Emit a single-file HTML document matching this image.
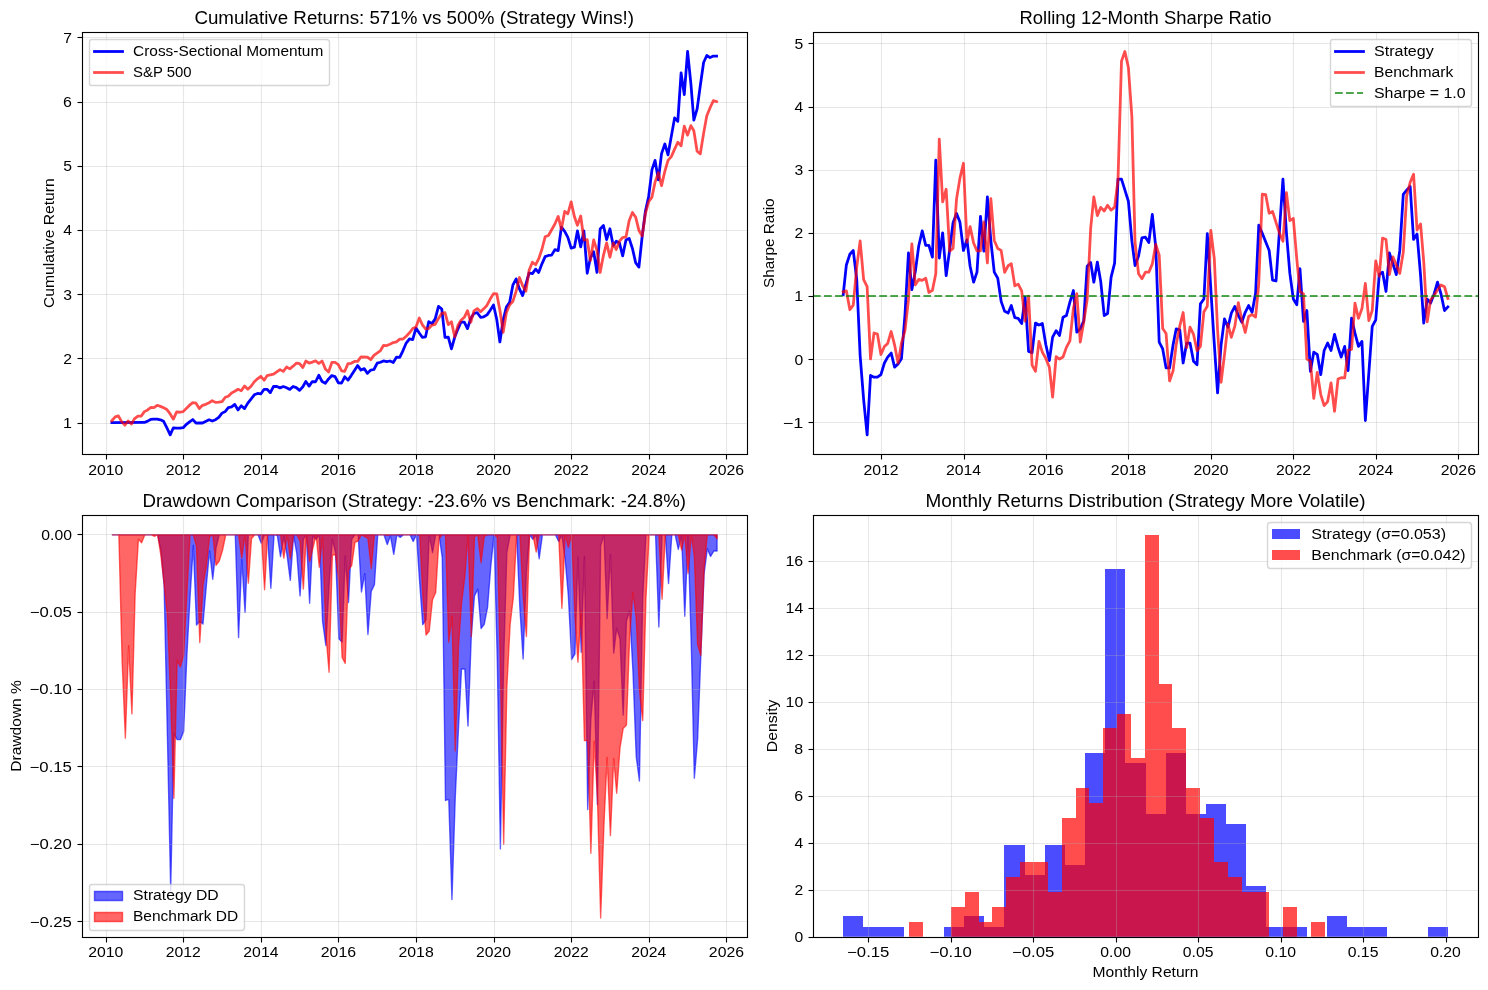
<!DOCTYPE html>
<html lang="en"><head><meta charset="utf-8"><title>Strategy vs Benchmark</title>
<style>html,body{margin:0;padding:0;background:#fff}body{width:1488px;height:990px;overflow:hidden;font-family:"Liberation Sans",sans-serif}svg{display:block;will-change:transform;transform:translateZ(0)}</style>
</head><body>
<svg width="1488" height="990" viewBox="3.6 3.6 1071.36 712.8"> <defs><style>*{stroke-linejoin:round;stroke-linecap:butt} text{font-family:"Liberation Sans",sans-serif;fill:#000}</style></defs> <g id="figure_1"> <g id="patch_1"> <path d="M 0.000 720.000 L 1080.000 720.000 L 1080.000 0.000 L 0.000 0.000 z" style="fill: #ffffff"/> </g> <g id="axes_1"> <g id="patch_2"> <path d="M 62.640 330.480 L 541.440 330.480 L 541.440 26.640 L 62.640 26.640 z" style="fill: #ffffff"/> </g> <g id="matplotlib.axis_1"> <g id="xtick_1"> <g id="line2d_1"> <path d="M 80.280 330.840 L 80.280 27.000" clip-path="url(#pc12e215c33)" style="fill: none; stroke: #b0b0b0; stroke-opacity: 0.3; stroke-width: 0.8; stroke-linecap: square"/> </g> <g id="line2d_2"> <g> <path d="M 80.280 330.840 L 80.280 334.440" style="fill: none; stroke: #000000; stroke-width: 0.8"/> </g> </g> <g id="text_1"> <text x="79.723" y="345.400" font-size="10.0800" text-anchor="middle" textLength="25.29" lengthAdjust="spacingAndGlyphs">2010</text> </g> </g> <g id="xtick_2"> <g id="line2d_3"> <path d="M 135.720 330.840 L 135.720 27.000" clip-path="url(#pc12e215c33)" style="fill: none; stroke: #b0b0b0; stroke-opacity: 0.3; stroke-width: 0.8; stroke-linecap: square"/> </g> <g id="line2d_4"> <g> <path d="M 135.720 330.840 L 135.720 334.440" style="fill: none; stroke: #000000; stroke-width: 0.8"/> </g> </g> <g id="text_2"> <text x="135.549" y="345.400" font-size="10.0800" text-anchor="middle" textLength="25.29" lengthAdjust="spacingAndGlyphs">2012</text> </g> </g> <g id="xtick_3"> <g id="line2d_5"> <path d="M 191.880 330.840 L 191.880 27.000" clip-path="url(#pc12e215c33)" style="fill: none; stroke: #b0b0b0; stroke-opacity: 0.3; stroke-width: 0.8; stroke-linecap: square"/> </g> <g id="line2d_6"> <g> <path d="M 191.880 330.840 L 191.880 334.440" style="fill: none; stroke: #000000; stroke-width: 0.8"/> </g> </g> <g id="text_3"> <text x="191.452" y="345.400" font-size="10.0800" text-anchor="middle" textLength="25.29" lengthAdjust="spacingAndGlyphs">2014</text> </g> </g> <g id="xtick_4"> <g id="line2d_7"> <path d="M 247.320 330.840 L 247.320 27.000" clip-path="url(#pc12e215c33)" style="fill: none; stroke: #b0b0b0; stroke-opacity: 0.3; stroke-width: 0.8; stroke-linecap: square"/> </g> <g id="line2d_8"> <g> <path d="M 247.320 330.840 L 247.320 334.440" style="fill: none; stroke: #000000; stroke-width: 0.8"/> </g> </g> <g id="text_4"> <text x="247.278" y="345.400" font-size="10.0800" text-anchor="middle" textLength="25.38" lengthAdjust="spacingAndGlyphs">2016</text> </g> </g> <g id="xtick_5"> <g id="line2d_9"> <path d="M 303.480 330.840 L 303.480 27.000" clip-path="url(#pc12e215c33)" style="fill: none; stroke: #b0b0b0; stroke-opacity: 0.3; stroke-width: 0.8; stroke-linecap: square"/> </g> <g id="line2d_10"> <g> <path d="M 303.480 330.840 L 303.480 334.440" style="fill: none; stroke: #000000; stroke-width: 0.8"/> </g> </g> <g id="text_5"> <text x="303.181" y="345.400" font-size="10.0800" text-anchor="middle" textLength="25.38" lengthAdjust="spacingAndGlyphs">2018</text> </g> </g> <g id="xtick_6"> <g id="line2d_11"> <path d="M 359.640 330.840 L 359.640 27.000" clip-path="url(#pc12e215c33)" style="fill: none; stroke: #b0b0b0; stroke-opacity: 0.3; stroke-width: 0.8; stroke-linecap: square"/> </g> <g id="line2d_12"> <g> <path d="M 359.640 330.840 L 359.640 334.440" style="fill: none; stroke: #000000; stroke-width: 0.8"/> </g> </g> <g id="text_6"> <text x="359.007" y="345.400" font-size="10.0800" text-anchor="middle" textLength="25.20" lengthAdjust="spacingAndGlyphs">2020</text> </g> </g> <g id="xtick_7"> <g id="line2d_13"> <path d="M 415.080 330.840 L 415.080 27.000" clip-path="url(#pc12e215c33)" style="fill: none; stroke: #b0b0b0; stroke-opacity: 0.3; stroke-width: 0.8; stroke-linecap: square"/> </g> <g id="line2d_14"> <g> <path d="M 415.080 330.840 L 415.080 334.440" style="fill: none; stroke: #000000; stroke-width: 0.8"/> </g> </g> <g id="text_7"> <text x="414.910" y="345.400" font-size="10.0800" text-anchor="middle" textLength="25.20" lengthAdjust="spacingAndGlyphs">2022</text> </g> </g> <g id="xtick_8"> <g id="line2d_15"> <path d="M 471.240 330.840 L 471.240 27.000" clip-path="url(#pc12e215c33)" style="fill: none; stroke: #b0b0b0; stroke-opacity: 0.3; stroke-width: 0.8; stroke-linecap: square"/> </g> <g id="line2d_16"> <g> <path d="M 471.240 330.840 L 471.240 334.440" style="fill: none; stroke: #000000; stroke-width: 0.8"/> </g> </g> <g id="text_8"> <text x="470.736" y="345.400" font-size="10.0800" text-anchor="middle" textLength="25.20" lengthAdjust="spacingAndGlyphs">2024</text> </g> </g> <g id="xtick_9"> <g id="line2d_17"> <path d="M 526.680 330.840 L 526.680 27.000" clip-path="url(#pc12e215c33)" style="fill: none; stroke: #b0b0b0; stroke-opacity: 0.3; stroke-width: 0.8; stroke-linecap: square"/> </g> <g id="line2d_18"> <g> <path d="M 526.680 330.840 L 526.680 334.440" style="fill: none; stroke: #000000; stroke-width: 0.8"/> </g> </g> <g id="text_9"> <text x="526.639" y="345.400" font-size="10.0800" text-anchor="middle" textLength="25.29" lengthAdjust="spacingAndGlyphs">2026</text> </g> </g> </g> <g id="matplotlib.axis_2"> <g id="ytick_1"> <g id="line2d_19"> <path d="M 63.000 308.520 L 541.800 308.520" clip-path="url(#pc12e215c33)" style="fill: none; stroke: #b0b0b0; stroke-opacity: 0.3; stroke-width: 0.8; stroke-linecap: square"/> </g> <g id="line2d_20"> <g> <path d="M 63.000 308.520 L 59.400 308.520" style="fill: none; stroke: #000000; stroke-width: 0.8"/> </g> </g> <g id="text_10"> <text x="55.390" y="311.834" font-size="10.0800" text-anchor="end" textLength="6.39" lengthAdjust="spacingAndGlyphs">1</text> </g> </g> <g id="ytick_2"> <g id="line2d_21"> <path d="M 63.000 261.720 L 541.800 261.720" clip-path="url(#pc12e215c33)" style="fill: none; stroke: #b0b0b0; stroke-opacity: 0.3; stroke-width: 0.8; stroke-linecap: square"/> </g> <g id="line2d_22"> <g> <path d="M 63.000 261.720 L 59.400 261.720" style="fill: none; stroke: #000000; stroke-width: 0.8"/> </g> </g> <g id="text_11"> <text x="55.390" y="265.606" font-size="10.0800" text-anchor="end" textLength="6.30" lengthAdjust="spacingAndGlyphs">2</text> </g> </g> <g id="ytick_3"> <g id="line2d_23"> <path d="M 63.000 215.640 L 541.800 215.640" clip-path="url(#pc12e215c33)" style="fill: none; stroke: #b0b0b0; stroke-opacity: 0.3; stroke-width: 0.8; stroke-linecap: square"/> </g> <g id="line2d_24"> <g> <path d="M 63.000 215.640 L 59.400 215.640" style="fill: none; stroke: #000000; stroke-width: 0.8"/> </g> </g> <g id="text_12"> <text x="55.390" y="219.379" font-size="10.0800" text-anchor="end" textLength="6.30" lengthAdjust="spacingAndGlyphs">3</text> </g> </g> <g id="ytick_4"> <g id="line2d_25"> <path d="M 63.000 169.560 L 541.800 169.560" clip-path="url(#pc12e215c33)" style="fill: none; stroke: #b0b0b0; stroke-opacity: 0.3; stroke-width: 0.8; stroke-linecap: square"/> </g> <g id="line2d_26"> <g> <path d="M 63.000 169.560 L 59.400 169.560" style="fill: none; stroke: #000000; stroke-width: 0.8"/> </g> </g> <g id="text_13"> <text x="55.390" y="173.152" font-size="10.0800" text-anchor="end" textLength="6.30" lengthAdjust="spacingAndGlyphs">4</text> </g> </g> <g id="ytick_5"> <g id="line2d_27"> <path d="M 63.000 123.480 L 541.800 123.480" clip-path="url(#pc12e215c33)" style="fill: none; stroke: #b0b0b0; stroke-opacity: 0.3; stroke-width: 0.8; stroke-linecap: square"/> </g> <g id="line2d_28"> <g> <path d="M 63.000 123.480 L 59.400 123.480" style="fill: none; stroke: #000000; stroke-width: 0.8"/> </g> </g> <g id="text_14"> <text x="55.390" y="126.925" font-size="10.0800" text-anchor="end" textLength="6.30" lengthAdjust="spacingAndGlyphs">5</text> </g> </g> <g id="ytick_6"> <g id="line2d_29"> <path d="M 63.000 77.400 L 541.800 77.400" clip-path="url(#pc12e215c33)" style="fill: none; stroke: #b0b0b0; stroke-opacity: 0.3; stroke-width: 0.8; stroke-linecap: square"/> </g> <g id="line2d_30"> <g> <path d="M 63.000 77.400 L 59.400 77.400" style="fill: none; stroke: #000000; stroke-width: 0.8"/> </g> </g> <g id="text_15"> <text x="55.390" y="80.697" font-size="10.0800" text-anchor="end" textLength="6.39" lengthAdjust="spacingAndGlyphs">6</text> </g> </g> <g id="ytick_7"> <g id="line2d_31"> <path d="M 63.000 30.600 L 541.800 30.600" clip-path="url(#pc12e215c33)" style="fill: none; stroke: #b0b0b0; stroke-opacity: 0.3; stroke-width: 0.8; stroke-linecap: square"/> </g> <g id="line2d_32"> <g> <path d="M 63.000 30.600 L 59.400 30.600" style="fill: none; stroke: #000000; stroke-width: 0.8"/> </g> </g> <g id="text_16"> <text x="55.390" y="34.470" font-size="10.0800" text-anchor="end" textLength="6.30" lengthAdjust="spacingAndGlyphs">7</text> </g> </g> <g id="text_17"> <text x="42.840" y="178.680" transform="rotate(-90 42.840 178.680)" font-size="10.0800" text-anchor="middle" textLength="93.42" lengthAdjust="spacingAndGlyphs">Cumulative Return</text> </g> </g> <g id="line2d_33"> <path d="M 84.158 307.873 L 107.559 307.777 L 109.930 306.816 L 112.071 305.615 L 114.442 305.375 L 116.736 305.351 L 119.107 305.838 L 121.401 306.959 L 123.772 311.688 L 126.142 316.68 L 128.437 311.605 L 130.807 311.805 L 133.102 311.805 L 135.472 311.552 L 137.843 309.104 L 140.061 307.325 L 142.431 305.687 L 144.726 308.198 L 147.096 308.076 L 149.391 308.164 L 154.132 305.863 L 156.426 306.755 L 158.797 305.765 L 161.091 304.054 L 163.462 301.051 L 165.833 299.850 L 167.974 297.088 L 170.345 296.608 L 172.639 294.806 L 175.010 298.749 L 177.304 295.749 L 179.674 297.783 L 182.045 293.845 L 186.710 287.840 L 189.004 286.879 L 191.375 287.249 L 193.746 283.877 L 195.887 283.912 L 198.258 286.307 L 200.552 281.835 L 202.923 281.871 L 205.217 282.854 L 207.588 281.907 L 209.958 282.811 L 212.253 283.967 L 214.623 281.871 L 216.917 282.702 L 219.288 284.690 L 221.659 282.052 L 223.800 278.232 L 226.171 281.593 L 228.465 278.308 L 230.836 278.460 L 233.130 273.788 L 235.501 278.286 L 237.871 279.539 L 240.166 276.439 L 242.536 274.029 L 244.831 274.720 L 247.201 279.193 L 249.572 279.362 L 251.790 274.889 L 254.161 277.306 L 256.455 274.029 L 261.120 266.822 L 263.490 270.052 L 265.861 269.022 L 268.155 272.452 L 270.526 270.017 L 272.820 269.641 L 275.191 265.021 L 277.562 264.420 L 279.703 263.459 L 282.074 264.040 L 284.368 263.523 L 286.739 264.611 L 289.033 260.817 L 291.404 260.976 L 293.774 256.013 L 296.068 250.609 L 298.439 247.606 L 300.733 248.064 L 303.104 239.799 L 305.475 243.411 L 307.616 246.440 L 309.987 246.086 L 312.281 235.235 L 314.652 236.614 L 316.946 233.194 L 319.317 224.186 L 321.687 226.109 L 323.982 246.492 L 326.352 246.401 L 328.647 254.807 L 331.017 246.272 L 333.388 240.373 L 335.529 235.463 L 337.900 235.463 L 340.194 240.244 L 342.565 232.721 L 344.859 229.318 L 347.230 228.759 L 349.601 232.059 L 351.895 231.708 L 354.265 230.292 L 356.560 226.914 L 358.930 223.225 L 361.301 233.826 L 363.519 249.793 L 365.890 233.826 L 368.184 224.743 L 370.555 221.184 L 372.849 208.947 L 375.219 204.369 L 377.590 211.556 L 379.884 216.393 L 384.549 200.166 L 386.920 200.627 L 389.291 197.403 L 391.432 199.832 L 393.803 193.560 L 396.097 188.396 L 398.468 187.555 L 400.762 187.315 L 403.133 183.351 L 405.503 184.086 L 407.798 167.138 L 410.168 170.129 L 412.463 174.523 L 414.833 182.207 L 417.204 181.534 L 419.345 169.830 L 421.716 181.347 L 424.010 169.774 L 426.381 200.342 L 428.675 189.386 L 431.046 184.824 L 433.416 199.744 L 435.711 168.502 L 438.081 165.937 L 440.376 176.135 L 442.746 168.326 L 445.117 180.331 L 447.258 177.302 L 449.629 178.600 L 451.923 187.876 L 454.294 176.436 L 456.588 175.213 L 458.959 182.495 L 461.330 192.919 L 463.624 195.892 L 465.995 173.651 L 468.289 155.728 L 470.660 144.919 L 473.030 125.702 L 475.248 119.097 L 477.619 133.103 L 479.913 114.181 L 482.284 107.293 L 484.578 115.067 L 489.319 88.471 L 491.614 90.994 L 493.984 56.043 L 496.278 71.721 L 498.649 40.68 L 501.020 63.559 L 503.161 90.012 L 505.532 82.051 L 507.826 65.126 L 510.197 48.578 L 512.491 43.532 L 514.862 45.067 L 517.232 43.970 L 519.527 43.970 L 519.527 43.970 " clip-path="url(#pc12e215c33)" style="fill: none; stroke: #0000ff; stroke-width: 2; stroke-linecap: square"/> </g> <g id="line2d_34"> <path d="M 84.158 306.555 L 86.529 303.760 L 88.823 303.017 L 91.194 307.204 L 93.488 309.731 L 95.859 306.679 L 98.229 308.930 L 100.523 304.975 L 102.894 303.164 L 105.188 303.281 L 107.559 299.962 L 109.930 298.736 L 112.071 296.967 L 114.442 297.027 L 116.736 295.401 L 119.107 296.193 L 121.401 297.250 L 123.772 298.471 L 126.142 301.630 L 128.437 305.396 L 130.807 300.149 L 133.102 300.422 L 135.472 299.964 L 140.061 295.312 L 142.431 293.470 L 144.726 293.924 L 147.096 297.694 L 149.391 295.463 L 151.761 294.724 L 154.132 293.551 L 156.426 292.083 L 158.797 293.311 L 161.091 293.138 L 163.462 292.707 L 165.833 289.611 L 167.974 288.897 L 170.345 286.551 L 172.639 285.329 L 175.010 283.901 L 177.304 284.954 L 179.674 281.534 L 182.045 283.805 L 184.339 281.714 L 186.710 278.486 L 189.004 276.365 L 191.375 274.533 L 193.746 277.365 L 195.887 274.056 L 200.552 273.001 L 205.217 269.718 L 207.588 270.990 L 209.958 267.861 L 212.253 269.199 L 214.623 267.229 L 216.917 265.097 L 219.288 265.470 L 221.659 268.221 L 223.800 263.507 L 226.171 265.083 L 228.465 264.325 L 230.836 263.383 L 233.130 265.289 L 235.501 263.536 L 237.871 269.203 L 240.166 271.448 L 242.536 264.589 L 244.831 264.544 L 247.201 266.114 L 249.572 270.578 L 251.790 270.923 L 254.161 265.434 L 256.455 265.195 L 258.825 263.832 L 261.120 263.750 L 263.490 260.533 L 268.155 260.762 L 270.526 262.575 L 272.820 259.447 L 277.562 256.001 L 279.703 252.352 L 282.074 252.392 L 284.368 251.467 L 286.739 250.279 L 289.033 249.779 L 291.404 247.761 L 293.774 247.702 L 296.068 245.649 L 298.439 243.242 L 300.733 240.129 L 303.104 239.009 L 305.475 232.543 L 307.616 237.277 L 309.987 240.418 L 312.281 240.109 L 314.652 237.646 L 316.946 237.082 L 319.317 232.867 L 321.687 229.198 L 323.982 228.661 L 326.352 237.367 L 328.647 235.282 L 331.017 246.187 L 333.388 237.696 L 335.529 234.236 L 337.900 232.087 L 340.194 227.290 L 342.565 235.632 L 344.859 227.465 L 347.230 225.803 L 349.601 228.124 L 351.895 225.960 L 354.265 223.342 L 356.560 218.890 L 358.930 215.024 L 361.301 215.250 L 363.519 226.929 L 365.890 242.841 L 368.184 228.728 L 370.555 223.051 L 372.849 220.641 L 375.219 213.287 L 377.590 203.421 L 379.884 209.332 L 382.255 213.337 L 384.549 198.199 L 386.920 192.412 L 389.291 194.212 L 391.432 190.040 L 393.803 183.078 L 396.097 174.112 L 398.468 173.125 L 403.133 164.896 L 405.503 159.411 L 407.798 168.672 L 410.168 155.851 L 412.463 157.503 L 414.833 148.929 L 417.204 159.718 L 419.345 165.814 L 421.716 159.078 L 424.010 176.232 L 426.381 176.222 L 428.675 191.150 L 431.046 176.302 L 433.416 183.848 L 435.711 199.749 L 438.081 187.422 L 440.376 178.462 L 442.746 188.820 L 445.117 178.614 L 447.258 183.196 L 449.629 177.205 L 451.923 174.615 L 454.294 174.170 L 456.588 162.523 L 458.959 156.558 L 461.330 160.058 L 463.624 169.511 L 465.995 173.568 L 468.289 157.469 L 470.660 148.772 L 473.030 145.508 L 475.248 134.719 L 477.619 127.915 L 479.913 137.327 L 482.284 126.918 L 484.578 119.041 L 486.949 116.380 L 489.319 110.952 L 491.614 106.041 L 493.984 108.496 L 496.278 94.422 L 498.649 100.912 L 501.020 94.072 L 503.161 97.775 L 505.532 112.525 L 507.826 114.367 L 510.197 99.618 L 512.491 86.994 L 514.862 81.206 L 517.232 76.003 L 519.527 76.746 L 519.527 76.746 " clip-path="url(#pc12e215c33)" style="fill: none; stroke: #ff0000; stroke-opacity: 0.7; stroke-width: 2; stroke-linecap: square"/> </g> <g id="patch_3"> <path d="M 63.000 330.840 L 63.000 27.000" style="fill: none; stroke: #000000; stroke-width: 0.8; stroke-linejoin: miter; stroke-linecap: square"/> </g> <g id="patch_4"> <path d="M 541.800 330.840 L 541.800 27.000" style="fill: none; stroke: #000000; stroke-width: 0.8; stroke-linejoin: miter; stroke-linecap: square"/> </g> <g id="patch_5"> <path d="M 63.000 330.840 L 541.800 330.840" style="fill: none; stroke: #000000; stroke-width: 0.8; stroke-linejoin: miter; stroke-linecap: square"/><path d="M 63.000 330.840 L 541.800 330.840" style="fill:none;stroke:#000;stroke-width:2.160;stroke-opacity:0.055;stroke-linecap:butt"/> </g> <g id="patch_6"> <path d="M 63.000 27.000 L 541.800 27.000" style="fill: none; stroke: #000000; stroke-width: 0.8; stroke-linejoin: miter; stroke-linecap: square"/><path d="M 63.000 27.000 L 541.800 27.000" style="fill:none;stroke:#000;stroke-width:2.160;stroke-opacity:0.055;stroke-linecap:butt"/> </g> <g id="text_18"> <text x="301.843" y="20.880" font-size="12.6000" text-anchor="middle" textLength="316.53" lengthAdjust="spacingAndGlyphs">Cumulative Returns: 571% vs 500% (Strategy Wins!)</text> </g> <g id="legend_1"> <g id="patch_7"> <path d="M 69.480 65.160 L 238.680 65.160 Q 240.840 65.160 240.840 63.720 L 240.840 34.200 Q 240.840 32.040 238.680 32.040 L 69.480 32.040 Q 68.040 32.040 68.040 34.200 L 68.040 63.720 Q 68.040 65.160 69.480 65.160 z " style="fill: #ffffff; opacity: 0.8; stroke: #cccccc; stroke-linejoin: miter"/> </g> <g id="line2d_35"> <path d="M 71.640 40.680 L 81.720 40.680 L 91.800 40.680" style="fill: none; stroke: #0000ff; stroke-width: 2; stroke-linecap: square"/> </g> <g id="text_19"> <text x="99.390" y="43.800" font-size="10.0800" text-anchor="start" textLength="136.98" lengthAdjust="spacingAndGlyphs">Cross-Sectional Momentum</text> </g> <g id="line2d_36"> <path d="M 71.640 55.800 L 81.720 55.800 L 91.800 55.800" style="fill: none; stroke: #ff0000; stroke-opacity: 0.7; stroke-width: 2; stroke-linecap: square"/> </g> <g id="text_20"> <text x="99.390" y="58.880" font-size="10.0800" text-anchor="start" textLength="42.12" lengthAdjust="spacingAndGlyphs">S&amp;P 500</text> </g> </g> </g> <g id="axes_2"> <g id="patch_8"> <path d="M 588.960 330.480 L 1067.760 330.480 L 1067.760 26.640 L 588.960 26.640 z" style="fill: #ffffff"/> </g> <g id="matplotlib.axis_3"> <g id="xtick_10"> <g id="line2d_37"> <path d="M 638.280 330.840 L 638.280 27.000" clip-path="url(#pae324ea439)" style="fill: none; stroke: #b0b0b0; stroke-opacity: 0.3; stroke-width: 0.8; stroke-linecap: square"/> </g> <g id="line2d_38"> <g> <path d="M 638.280 330.840 L 638.280 334.440" style="fill: none; stroke: #000000; stroke-width: 0.8"/> </g> </g> <g id="text_21"> <text x="637.937" y="345.400" font-size="10.0800" text-anchor="middle" textLength="25.29" lengthAdjust="spacingAndGlyphs">2012</text> </g> </g> <g id="xtick_11"> <g id="line2d_39"> <path d="M 698.040 330.840 L 698.040 27.000" clip-path="url(#pae324ea439)" style="fill: none; stroke: #b0b0b0; stroke-opacity: 0.3; stroke-width: 0.8; stroke-linecap: square"/> </g> <g id="line2d_40"> <g> <path d="M 698.040 330.840 L 698.040 334.440" style="fill: none; stroke: #000000; stroke-width: 0.8"/> </g> </g> <g id="text_22"> <text x="697.357" y="345.400" font-size="10.0800" text-anchor="middle" textLength="25.29" lengthAdjust="spacingAndGlyphs">2014</text> </g> </g> <g id="xtick_12"> <g id="line2d_41"> <path d="M 757.080 330.840 L 757.080 27.000" clip-path="url(#pae324ea439)" style="fill: none; stroke: #b0b0b0; stroke-opacity: 0.3; stroke-width: 0.8; stroke-linecap: square"/> </g> <g id="line2d_42"> <g> <path d="M 757.080 330.840 L 757.080 334.440" style="fill: none; stroke: #000000; stroke-width: 0.8"/> </g> </g> <g id="text_23"> <text x="756.696" y="345.400" font-size="10.0800" text-anchor="middle" textLength="25.38" lengthAdjust="spacingAndGlyphs">2016</text> </g> </g> <g id="xtick_13"> <g id="line2d_43"> <path d="M 816.120 330.840 L 816.120 27.000" clip-path="url(#pae324ea439)" style="fill: none; stroke: #b0b0b0; stroke-opacity: 0.3; stroke-width: 0.8; stroke-linecap: square"/> </g> <g id="line2d_44"> <g> <path d="M 816.120 330.840 L 816.120 334.440" style="fill: none; stroke: #000000; stroke-width: 0.8"/> </g> </g> <g id="text_24"> <text x="816.116" y="345.400" font-size="10.0800" text-anchor="middle" textLength="25.38" lengthAdjust="spacingAndGlyphs">2018</text> </g> </g> <g id="xtick_14"> <g id="line2d_45"> <path d="M 875.880 330.840 L 875.880 27.000" clip-path="url(#pae324ea439)" style="fill: none; stroke: #b0b0b0; stroke-opacity: 0.3; stroke-width: 0.8; stroke-linecap: square"/> </g> <g id="line2d_46"> <g> <path d="M 875.880 330.840 L 875.880 334.440" style="fill: none; stroke: #000000; stroke-width: 0.8"/> </g> </g> <g id="text_25"> <text x="875.455" y="345.400" font-size="10.0800" text-anchor="middle" textLength="25.20" lengthAdjust="spacingAndGlyphs">2020</text> </g> </g> <g id="xtick_15"> <g id="line2d_47"> <path d="M 934.920 330.840 L 934.920 27.000" clip-path="url(#pae324ea439)" style="fill: none; stroke: #b0b0b0; stroke-opacity: 0.3; stroke-width: 0.8; stroke-linecap: square"/> </g> <g id="line2d_48"> <g> <path d="M 934.920 330.840 L 934.920 334.440" style="fill: none; stroke: #000000; stroke-width: 0.8"/> </g> </g> <g id="text_26"> <text x="934.875" y="345.400" font-size="10.0800" text-anchor="middle" textLength="25.20" lengthAdjust="spacingAndGlyphs">2022</text> </g> </g> <g id="xtick_16"> <g id="line2d_49"> <path d="M 994.680 330.840 L 994.680 27.000" clip-path="url(#pae324ea439)" style="fill: none; stroke: #b0b0b0; stroke-opacity: 0.3; stroke-width: 0.8; stroke-linecap: square"/> </g> <g id="line2d_50"> <g> <path d="M 994.680 330.840 L 994.680 334.440" style="fill: none; stroke: #000000; stroke-width: 0.8"/> </g> </g> <g id="text_27"> <text x="994.214" y="345.400" font-size="10.0800" text-anchor="middle" textLength="25.20" lengthAdjust="spacingAndGlyphs">2024</text> </g> </g> <g id="xtick_17"> <g id="line2d_51"> <path d="M 1053.720 330.840 L 1053.720 27.000" clip-path="url(#pae324ea439)" style="fill: none; stroke: #b0b0b0; stroke-opacity: 0.3; stroke-width: 0.8; stroke-linecap: square"/> </g> <g id="line2d_52"> <g> <path d="M 1053.720 330.840 L 1053.720 334.440" style="fill: none; stroke: #000000; stroke-width: 0.8"/> </g> </g> <g id="text_28"> <text x="1053.634" y="345.400" font-size="10.0800" text-anchor="middle" textLength="25.29" lengthAdjust="spacingAndGlyphs">2026</text> </g> </g> </g> <g id="matplotlib.axis_4"> <g id="ytick_8"> <g id="line2d_53"> <path d="M 589.320 307.800 L 1068.120 307.800" clip-path="url(#pae324ea439)" style="fill: none; stroke: #b0b0b0; stroke-opacity: 0.3; stroke-width: 0.8; stroke-linecap: square"/> </g> <g id="line2d_54"> <g> <path d="M 589.320 307.800 L 585.720 307.800" style="fill: none; stroke: #000000; stroke-width: 0.8"/> </g> </g> <g id="text_29"> <text x="581.937" y="311.497" font-size="10.0800" text-anchor="end" textLength="14.76" lengthAdjust="spacingAndGlyphs">−1</text> </g> </g> <g id="ytick_9"> <g id="line2d_55"> <path d="M 589.320 262.440 L 1068.120 262.440" clip-path="url(#pae324ea439)" style="fill: none; stroke: #b0b0b0; stroke-opacity: 0.3; stroke-width: 0.8; stroke-linecap: square"/> </g> <g id="line2d_56"> <g> <path d="M 589.320 262.440 L 585.720 262.440" style="fill: none; stroke: #000000; stroke-width: 0.8"/> </g> </g> <g id="text_30"> <text x="581.937" y="266.052" font-size="10.0800" text-anchor="end" textLength="6.30" lengthAdjust="spacingAndGlyphs">0</text> </g> </g> <g id="ytick_10"> <g id="line2d_57"> <path d="M 589.320 217.080 L 1068.120 217.080" clip-path="url(#pae324ea439)" style="fill: none; stroke: #b0b0b0; stroke-opacity: 0.3; stroke-width: 0.8; stroke-linecap: square"/> </g> <g id="line2d_58"> <g> <path d="M 589.320 217.080 L 585.720 217.080" style="fill: none; stroke: #000000; stroke-width: 0.8"/> </g> </g> <g id="text_31"> <text x="581.937" y="220.608" font-size="10.0800" text-anchor="end" textLength="6.39" lengthAdjust="spacingAndGlyphs">1</text> </g> </g> <g id="ytick_11"> <g id="line2d_59"> <path d="M 589.320 171.720 L 1068.120 171.720" clip-path="url(#pae324ea439)" style="fill: none; stroke: #b0b0b0; stroke-opacity: 0.3; stroke-width: 0.8; stroke-linecap: square"/> </g> <g id="line2d_60"> <g> <path d="M 589.320 171.720 L 585.720 171.720" style="fill: none; stroke: #000000; stroke-width: 0.8"/> </g> </g> <g id="text_32"> <text x="581.937" y="175.164" font-size="10.0800" text-anchor="end" textLength="6.30" lengthAdjust="spacingAndGlyphs">2</text> </g> </g> <g id="ytick_12"> <g id="line2d_61"> <path d="M 589.320 126.360 L 1068.120 126.360" clip-path="url(#pae324ea439)" style="fill: none; stroke: #b0b0b0; stroke-opacity: 0.3; stroke-width: 0.8; stroke-linecap: square"/> </g> <g id="line2d_62"> <g> <path d="M 589.320 126.360 L 585.720 126.360" style="fill: none; stroke: #000000; stroke-width: 0.8"/> </g> </g> <g id="text_33"> <text x="581.937" y="129.720" font-size="10.0800" text-anchor="end" textLength="6.30" lengthAdjust="spacingAndGlyphs">3</text> </g> </g> <g id="ytick_13"> <g id="line2d_63"> <path d="M 589.320 81.000 L 1068.120 81.000" clip-path="url(#pae324ea439)" style="fill: none; stroke: #b0b0b0; stroke-opacity: 0.3; stroke-width: 0.8; stroke-linecap: square"/> </g> <g id="line2d_64"> <g> <path d="M 589.320 81.000 L 585.720 81.000" style="fill: none; stroke: #000000; stroke-width: 0.8"/> </g> </g> <g id="text_34"> <text x="581.937" y="84.276" font-size="10.0800" text-anchor="end" textLength="6.30" lengthAdjust="spacingAndGlyphs">4</text> </g> </g> <g id="ytick_14"> <g id="line2d_65"> <path d="M 589.320 34.920 L 1068.120 34.920" clip-path="url(#pae324ea439)" style="fill: none; stroke: #b0b0b0; stroke-opacity: 0.3; stroke-width: 0.8; stroke-linecap: square"/> </g> <g id="line2d_66"> <g> <path d="M 589.320 34.920 L 585.720 34.920" style="fill: none; stroke: #000000; stroke-width: 0.8"/> </g> </g> <g id="text_35"> <text x="581.937" y="38.831" font-size="10.0800" text-anchor="end" textLength="6.30" lengthAdjust="spacingAndGlyphs">5</text> </g> </g> <g id="text_36"> <text x="561.017" y="178.680" transform="rotate(-90 561.017 178.680)" font-size="10.0800" text-anchor="middle" textLength="64.44" lengthAdjust="spacingAndGlyphs">Sharpe Ratio</text> </g> </g> <g id="line2d_67"> <path d="M 610.705 215.739 L 612.981 194.380 L 615.501 186.655 L 617.940 183.928 L 620.460 204.969 L 622.898 259.592 L 625.418 291.358 L 627.938 316.68 L 630.376 273.953 L 632.896 275.180 L 635.335 275.180 L 637.855 273.362 L 640.375 264.955 L 642.732 260.774 L 645.252 257.775 L 647.690 267.954 L 650.210 265.591 L 652.649 261.956 L 655.169 230.281 L 657.689 185.746 L 660.127 212.194 L 662.647 198.924 L 665.086 180.747 L 667.606 169.840 L 670.125 180.292 L 672.401 180.292 L 674.921 188.699 L 677.360 118.943 L 679.880 189.381 L 682.318 171.203 L 684.838 202.106 L 687.358 183.473 L 689.797 163.932 L 692.316 157.343 L 694.755 163.478 L 697.275 183.928 L 699.795 176.202 L 702.071 195.289 L 704.591 206.786 L 707.029 199.561 L 709.549 159.388 L 711.988 184.473 L 714.508 145.300 L 717.027 177.111 L 719.466 199.561 L 721.986 203.923 L 724.425 220.601 L 726.944 227.782 L 729.464 229.009 L 731.740 223.601 L 734.260 232.371 L 736.699 232.826 L 739.219 236.552 L 741.657 217.557 L 744.177 256.593 L 746.697 257.547 L 749.136 236.189 L 751.655 237.643 L 754.094 236.552 L 756.614 251.776 L 759.134 263.183 L 761.491 246.368 L 764.011 241.642 L 766.449 245.187 L 768.969 232.008 L 771.408 230.781 L 773.928 221.192 L 776.448 212.785 L 778.886 242.778 L 781.406 240.370 L 783.845 234.825 L 786.365 195.289 L 788.884 192.562 L 791.160 206.786 L 793.680 192.290 L 796.119 206.196 L 798.639 230.781 L 801.077 229.372 L 803.597 203.151 L 806.117 193.017 L 808.556 132.576 L 811.076 132.576 L 816.034 148.481 L 818.554 177.248 L 820.830 194.834 L 823.350 188.018 L 825.788 174.839 L 828.308 174.385 L 830.747 178.202 L 833.267 158.025 L 835.787 182.110 L 838.225 250.004 L 840.745 254.821 L 843.184 268.545 L 845.704 268.545 L 848.223 251.776 L 850.499 240.370 L 853.019 241.006 L 855.458 264.955 L 857.978 250.595 L 860.416 250.595 L 862.936 263.773 L 865.456 266.182 L 867.895 222.419 L 870.414 218.920 L 872.853 171.794 L 877.893 251.185 L 880.250 286.541 L 882.770 252.094 L 885.209 233.189 L 887.728 239.188 L 890.167 229.009 L 892.687 224.191 L 895.207 230.735 L 897.645 235.598 L 900.165 228.463 L 902.604 223.601 L 905.124 228.418 L 907.644 214.603 L 909.920 165.750 L 912.439 171.658 L 917.398 183.928 L 919.836 205.287 L 922.356 205.923 L 927.315 132.576 L 929.835 171.203 L 932.273 200.288 L 934.793 218.920 L 937.313 223.010 L 939.589 197.107 L 942.109 235.007 L 944.547 227.191 L 947.067 270.954 L 949.506 257.184 L 952.026 258.729 L 954.546 273.362 L 956.984 255.957 L 959.504 250.595 L 961.943 255.957 L 964.463 244.369 L 966.982 253.594 L 969.258 260.774 L 971.778 253.003 L 974.217 270.363 L 976.737 232.599 L 979.175 243.460 L 981.695 253.003 L 984.215 249.368 L 986.654 306.355 L 991.612 238.597 L 994.132 233.916 L 996.652 201.333 L 999.009 199.515 L 1001.529 213.467 L 1003.968 185.746 L 1006.488 193.471 L 1008.926 201.333 L 1011.446 183.928 L 1013.966 143.482 L 1016.404 140.483 L 1018.924 137.802 L 1021.363 176.021 L 1023.883 172.112 L 1026.403 201.651 L 1028.679 236.189 L 1031.199 218.920 L 1033.637 221.828 L 1036.157 215.284 L 1038.596 206.786 L 1041.115 215.284 L 1043.635 227.191 L 1046.074 224.555 L 1046.074 224.555 " clip-path="url(#pae324ea439)" style="fill: none; stroke: #0000ff; stroke-width: 2; stroke-linecap: square"/> </g> <g id="line2d_68"> <path d="M 610.705 213.761 L 612.981 212.992 L 615.501 226.616 L 617.940 223.329 L 620.460 195.872 L 622.898 177.005 L 625.418 204.911 L 627.938 209.983 L 630.376 262.049 L 632.896 243.345 L 635.335 244.094 L 637.855 258.831 L 640.375 253.123 L 642.732 250.862 L 645.252 242.262 L 647.690 251.901 L 650.210 265.070 L 652.649 250.600 L 655.169 241.881 L 657.689 219.335 L 660.127 179.195 L 662.647 208.666 L 665.086 204.773 L 667.606 205.430 L 670.125 203.862 L 672.401 214.183 L 674.921 212.705 L 677.360 200.757 L 679.880 103.725 L 682.318 148.955 L 684.838 139.841 L 687.358 184.455 L 689.797 182.492 L 692.316 146.795 L 694.755 131.838 L 697.275 121.136 L 699.795 178.029 L 702.071 166.764 L 704.591 178.535 L 707.029 184.241 L 709.549 184.134 L 711.988 163.418 L 714.508 192.951 L 717.027 146.707 L 719.466 176.743 L 721.986 182.558 L 724.425 183.858 L 726.944 199.681 L 729.464 194.934 L 731.740 193.470 L 734.260 209.377 L 736.699 208.170 L 739.219 213.019 L 741.657 234.779 L 744.177 216.740 L 746.697 266.466 L 749.136 270.908 L 751.655 249.352 L 754.094 257.233 L 756.614 261.715 L 759.134 268.000 L 761.491 289.458 L 764.011 260.296 L 766.449 262.097 L 768.969 260.604 L 771.408 253.724 L 773.928 249.021 L 776.448 225.700 L 778.886 215.031 L 781.406 249.873 L 783.845 235.807 L 786.365 219.311 L 788.884 168.104 L 791.160 145.425 L 793.680 158.839 L 796.119 152.898 L 798.639 155.531 L 801.077 151.432 L 803.597 154.967 L 806.117 152.730 L 808.556 132.954 L 811.076 47.628 L 813.514 40.68 L 816.034 52.199 L 818.554 87.721 L 820.830 177.976 L 823.350 200.692 L 825.788 204.280 L 828.308 199.609 L 830.747 199.593 L 833.267 193.617 L 835.787 179.545 L 838.225 187.243 L 840.745 240.179 L 843.184 243.743 L 845.704 277.905 L 848.223 270.607 L 850.499 251.424 L 853.019 238.406 L 855.458 228.594 L 857.978 253.922 L 860.416 239.098 L 862.936 244.362 L 865.456 256.061 L 867.895 252.959 L 870.414 228.081 L 872.853 224.101 L 875.373 169.490 L 877.893 189.716 L 880.250 240.994 L 882.770 278.833 L 885.209 259.315 L 887.728 237.041 L 890.167 246.535 L 892.687 238.406 L 895.207 221.509 L 897.645 233.519 L 900.165 243.012 L 902.604 231.508 L 905.124 230.089 L 907.644 231.854 L 909.920 207.748 L 912.439 143.454 L 914.878 143.670 L 917.398 157.130 L 919.836 155.772 L 924.876 171.757 L 927.315 177.326 L 929.835 142.371 L 932.273 162.423 L 934.793 160.924 L 937.313 190.339 L 939.589 213.520 L 942.109 215.229 L 944.547 262.046 L 947.067 263.583 L 949.506 290.484 L 952.026 271.721 L 954.546 287.697 L 956.984 295.629 L 959.504 292.730 L 961.943 279.259 L 964.463 299.695 L 966.982 276.549 L 969.258 275.578 L 971.778 275.724 L 974.217 255.615 L 976.737 255.113 L 979.175 221.855 L 981.695 232.808 L 984.215 225.759 L 986.654 207.591 L 989.174 234.364 L 991.612 227.137 L 994.132 191.429 L 996.652 202.534 L 999.009 174.994 L 1001.529 176.107 L 1003.968 201.237 L 1006.488 188.485 L 1011.446 200.436 L 1013.966 185.115 L 1016.404 144.618 L 1018.924 134.836 L 1021.363 128.997 L 1023.883 169.230 L 1026.403 164.770 L 1028.679 191.838 L 1031.199 235.319 L 1033.637 219.423 L 1036.157 216.332 L 1038.596 212.409 L 1041.115 208.802 L 1043.635 210.055 L 1046.074 218.580 L 1046.074 218.580 " clip-path="url(#pae324ea439)" style="fill: none; stroke: #ff0000; stroke-opacity: 0.7; stroke-width: 2; stroke-linecap: square"/> </g> <g id="line2d_69"> <path d="M 588.960 216.720 L 1067.760 216.720" clip-path="url(#pae324ea439)" style="fill: none; stroke-dasharray: 5.55,2.4; stroke-dashoffset: 0; stroke: #008000; stroke-opacity: 0.7; stroke-width: 1.5"/> </g> <g id="patch_9"> <path d="M 589.320 330.840 L 589.320 27.000" style="fill: none; stroke: #000000; stroke-width: 0.8; stroke-linejoin: miter; stroke-linecap: square"/> </g> <g id="patch_10"> <path d="M 1068.120 330.840 L 1068.120 27.000" style="fill: none; stroke: #000000; stroke-width: 0.8; stroke-linejoin: miter; stroke-linecap: square"/> </g> <g id="patch_11"> <path d="M 589.320 330.840 L 1068.120 330.840" style="fill: none; stroke: #000000; stroke-width: 0.8; stroke-linejoin: miter; stroke-linecap: square"/><path d="M 589.320 330.840 L 1068.120 330.840" style="fill:none;stroke:#000;stroke-width:2.160;stroke-opacity:0.055;stroke-linecap:butt"/> </g> <g id="patch_12"> <path d="M 589.320 27.000 L 1068.120 27.000" style="fill: none; stroke: #000000; stroke-width: 0.8; stroke-linejoin: miter; stroke-linecap: square"/><path d="M 589.320 27.000 L 1068.120 27.000" style="fill:none;stroke:#000;stroke-width:2.160;stroke-opacity:0.055;stroke-linecap:butt"/> </g> <g id="text_37"> <text x="828.390" y="20.880" font-size="12.6000" text-anchor="middle" textLength="181.53" lengthAdjust="spacingAndGlyphs">Rolling 12-Month Sharpe Ratio</text> </g> <g id="legend_2"> <g id="patch_13"> <path d="M 963.000 80.280 L 1060.920 80.280 Q 1063.080 80.280 1063.080 78.840 L 1063.080 34.200 Q 1063.080 32.040 1060.920 32.040 L 963.000 32.040 Q 961.560 32.040 961.560 34.200 L 961.560 78.840 Q 961.560 80.280 963.000 80.280 z " style="fill: #ffffff; opacity: 0.8; stroke: #cccccc; stroke-linejoin: miter"/> </g> <g id="line2d_70"> <path d="M 965.160 40.680 L 975.240 40.680 L 985.320 40.680" style="fill: none; stroke: #0000ff; stroke-width: 2; stroke-linecap: square"/> </g> <g id="text_38"> <text x="992.873" y="43.800" font-size="10.0800" text-anchor="start" textLength="43.02" lengthAdjust="spacingAndGlyphs">Strategy</text> </g> <g id="line2d_71"> <path d="M 965.160 55.800 L 975.240 55.800 L 985.320 55.800" style="fill: none; stroke: #ff0000; stroke-opacity: 0.7; stroke-width: 2; stroke-linecap: square"/> </g> <g id="text_39"> <text x="992.873" y="58.880" font-size="10.0800" text-anchor="start" textLength="57.06" lengthAdjust="spacingAndGlyphs">Benchmark</text> </g> <g id="line2d_72"> <path d="M 964.800 70.560 L 974.880 70.560 L 984.960 70.560" style="fill: none; stroke-dasharray: 5.55,2.4; stroke-dashoffset: 0; stroke: #008000; stroke-opacity: 0.7; stroke-width: 1.5"/> </g> <g id="text_40"> <text x="992.873" y="73.960" font-size="10.0800" text-anchor="start" textLength="65.97" lengthAdjust="spacingAndGlyphs">Sharpe = 1.0</text> </g> </g> </g> <g id="axes_3"> <g id="patch_14"> <path d="M 62.640 678.240 L 541.440 678.240 L 541.440 374.400 L 62.640 374.400 z" style="fill: #ffffff"/> </g> <g id="FillBetweenPolyCollection_1"> <g clip-path="url(#p8433cc870e)"> <path d="M 84.518 388.600 L 84.518 388.600 L 86.889 388.600 L 89.183 388.600 L 91.554 388.600 L 93.848 388.600 L 96.219 388.600 L 98.589 388.600 L 100.883 388.600 L 103.254 388.600 L 105.548 388.600 L 107.919 388.600 L 110.290 388.600 L 112.431 388.600 L 114.802 388.600 L 117.096 388.600 L 119.467 399.742 L 121.761 425.370 L 124.132 533.455 L 126.502 644.882 L 128.797 531.561 L 131.167 536.129 L 133.462 536.129 L 135.832 530.335 L 138.203 474.398 L 140.421 433.728 L 142.791 396.288 L 145.086 453.673 L 147.456 450.887 L 149.751 452.893 L 152.121 425.705 L 154.492 400.299 L 156.786 420.691 L 159.157 398.071 L 161.451 388.600 L 163.822 388.600 L 166.193 388.600 L 168.334 388.600 L 170.705 388.600 L 172.999 388.600 L 175.370 462.699 L 177.664 406.316 L 180.034 444.536 L 182.405 388.600 L 184.699 388.600 L 187.070 388.600 L 189.364 388.600 L 191.735 394.728 L 194.106 388.600 L 196.247 389.157 L 198.618 427.153 L 200.912 388.600 L 203.283 389.157 L 205.577 404.311 L 207.948 389.714 L 210.318 403.642 L 212.613 421.471 L 214.983 389.157 L 217.277 401.971 L 219.648 432.613 L 222.019 391.942 L 224.160 388.600 L 226.531 437.962 L 228.825 389.714 L 231.196 391.942 L 233.490 388.600 L 235.861 450.999 L 238.231 468.381 L 240.526 425.370 L 242.896 391.942 L 245.191 401.525 L 247.561 463.590 L 249.932 465.930 L 252.150 403.865 L 254.521 437.405 L 256.815 391.942 L 259.185 388.600 L 261.480 388.600 L 263.850 429.828 L 266.221 416.679 L 268.515 460.470 L 270.886 429.382 L 273.180 424.591 L 275.551 388.600 L 277.922 388.600 L 280.063 388.600 L 282.434 395.731 L 284.728 389.379 L 287.099 402.751 L 289.393 388.600 L 291.764 390.494 L 294.134 388.600 L 296.428 388.600 L 298.799 388.600 L 301.093 393.391 L 303.464 388.600 L 305.835 423.811 L 307.976 453.339 L 310.347 449.884 L 312.641 388.600 L 315.012 401.525 L 317.306 388.600 L 319.677 388.600 L 322.047 405.091 L 324.342 579.920 L 326.712 579.140 L 329.007 651.234 L 331.377 578.026 L 333.748 527.438 L 335.889 485.318 L 338.260 485.318 L 340.554 526.324 L 342.925 461.807 L 345.219 432.613 L 347.590 427.822 L 349.961 456.124 L 352.255 453.116 L 354.625 440.970 L 356.920 411.999 L 359.290 388.600 L 361.661 478.856 L 363.879 614.797 L 366.250 478.856 L 368.544 401.525 L 370.915 388.600 L 373.209 388.600 L 375.579 388.600 L 377.950 442.085 L 380.244 478.076 L 382.615 415.342 L 384.909 388.600 L 387.280 391.942 L 389.651 388.600 L 391.792 405.871 L 394.163 388.600 L 396.457 388.600 L 398.828 388.600 L 401.122 388.600 L 403.493 388.600 L 405.863 393.391 L 408.158 388.600 L 410.528 406.428 L 412.823 432.613 L 415.193 478.410 L 417.564 474.398 L 419.705 404.645 L 422.076 473.284 L 424.370 404.311 L 426.741 586.494 L 429.035 521.198 L 431.406 494.010 L 433.776 582.929 L 436.071 396.734 L 438.441 388.600 L 440.736 448.993 L 443.106 402.751 L 445.477 473.841 L 447.618 455.902 L 449.989 463.590 L 452.283 518.524 L 454.654 450.776 L 456.948 443.533 L 459.319 486.655 L 461.690 548.386 L 463.984 565.992 L 466.355 434.285 L 468.649 388.600 L 471.020 388.600 L 473.390 388.600 L 475.608 388.600 L 477.979 455.010 L 480.273 388.600 L 482.644 388.600 L 484.938 423.699 L 487.309 388.600 L 489.679 388.600 L 491.974 399.185 L 494.344 388.600 L 496.638 447.210 L 499.009 388.600 L 501.380 469.941 L 503.521 563.986 L 505.892 535.683 L 508.186 475.513 L 510.557 416.679 L 512.851 398.739 L 515.222 404.199 L 517.592 400.299 L 519.887 400.299 L 519.887 388.600 L 519.887 388.600 L 517.592 388.600 L 515.222 388.600 L 512.851 388.600 L 510.557 388.600 L 508.186 388.600 L 505.892 388.600 L 503.521 388.600 L 501.380 388.600 L 499.009 388.600 L 496.638 388.600 L 494.344 388.600 L 491.974 388.600 L 489.679 388.600 L 487.309 388.600 L 484.938 388.600 L 482.644 388.600 L 480.273 388.600 L 477.979 388.600 L 475.608 388.600 L 473.390 388.600 L 471.020 388.600 L 468.649 388.600 L 466.355 388.600 L 463.984 388.600 L 461.690 388.600 L 459.319 388.600 L 456.948 388.600 L 454.654 388.600 L 452.283 388.600 L 449.989 388.600 L 447.618 388.600 L 445.477 388.600 L 443.106 388.600 L 440.736 388.600 L 438.441 388.600 L 436.071 388.600 L 433.776 388.600 L 431.406 388.600 L 429.035 388.600 L 426.741 388.600 L 424.370 388.600 L 422.076 388.600 L 419.705 388.600 L 417.564 388.600 L 415.193 388.600 L 412.823 388.600 L 410.528 388.600 L 408.158 388.600 L 405.863 388.600 L 403.493 388.600 L 401.122 388.600 L 398.828 388.600 L 396.457 388.600 L 394.163 388.600 L 391.792 388.600 L 389.651 388.600 L 387.280 388.600 L 384.909 388.600 L 382.615 388.600 L 380.244 388.600 L 377.950 388.600 L 375.579 388.600 L 373.209 388.600 L 370.915 388.600 L 368.544 388.600 L 366.250 388.600 L 363.879 388.600 L 361.661 388.600 L 359.290 388.600 L 356.920 388.600 L 354.625 388.600 L 352.255 388.600 L 349.961 388.600 L 347.590 388.600 L 345.219 388.600 L 342.925 388.600 L 340.554 388.600 L 338.260 388.600 L 335.889 388.600 L 333.748 388.600 L 331.377 388.600 L 329.007 388.600 L 326.712 388.600 L 324.342 388.600 L 322.047 388.600 L 319.677 388.600 L 317.306 388.600 L 315.012 388.600 L 312.641 388.600 L 310.347 388.600 L 307.976 388.600 L 305.835 388.600 L 303.464 388.600 L 301.093 388.600 L 298.799 388.600 L 296.428 388.600 L 294.134 388.600 L 291.764 388.600 L 289.393 388.600 L 287.099 388.600 L 284.728 388.600 L 282.434 388.600 L 280.063 388.600 L 277.922 388.600 L 275.551 388.600 L 273.180 388.600 L 270.886 388.600 L 268.515 388.600 L 266.221 388.600 L 263.850 388.600 L 261.480 388.600 L 259.185 388.600 L 256.815 388.600 L 254.521 388.600 L 252.150 388.600 L 249.932 388.600 L 247.561 388.600 L 245.191 388.600 L 242.896 388.600 L 240.526 388.600 L 238.231 388.600 L 235.861 388.600 L 233.490 388.600 L 231.196 388.600 L 228.825 388.600 L 226.531 388.600 L 224.160 388.600 L 222.019 388.600 L 219.648 388.600 L 217.277 388.600 L 214.983 388.600 L 212.613 388.600 L 210.318 388.600 L 207.948 388.600 L 205.577 388.600 L 203.283 388.600 L 200.912 388.600 L 198.618 388.600 L 196.247 388.600 L 194.106 388.600 L 191.735 388.600 L 189.364 388.600 L 187.070 388.600 L 184.699 388.600 L 182.405 388.600 L 180.034 388.600 L 177.664 388.600 L 175.370 388.600 L 172.999 388.600 L 170.705 388.600 L 168.334 388.600 L 166.193 388.600 L 163.822 388.600 L 161.451 388.600 L 159.157 388.600 L 156.786 388.600 L 154.492 388.600 L 152.121 388.600 L 149.751 388.600 L 147.456 388.600 L 145.086 388.600 L 142.791 388.600 L 140.421 388.600 L 138.203 388.600 L 135.832 388.600 L 133.462 388.600 L 131.167 388.600 L 128.797 388.600 L 126.502 388.600 L 124.132 388.600 L 121.761 388.600 L 119.467 388.600 L 117.096 388.600 L 114.802 388.600 L 112.431 388.600 L 110.290 388.600 L 107.919 388.600 L 105.548 388.600 L 103.254 388.600 L 100.883 388.600 L 98.589 388.600 L 96.219 388.600 L 93.848 388.600 L 91.554 388.600 L 89.183 388.600 L 86.889 388.600 L 84.518 388.600 z" style="fill: #0000ff; fill-opacity: 0.6; stroke: #0000ff; stroke-opacity: 0.6"/> </g> </g> <g id="FillBetweenPolyCollection_2"> <g clip-path="url(#p8433cc870e)"> <path d="M 84.518 388.600 L 84.518 388.600 L 86.889 388.600 L 89.183 388.600 L 91.554 479.943 L 93.848 535.061 L 96.219 468.497 L 98.589 517.577 L 100.883 431.313 L 103.254 391.820 L 105.548 394.365 L 107.919 388.600 L 110.290 388.600 L 112.431 388.600 L 114.802 389.766 L 117.096 388.600 L 119.467 403.643 L 121.761 423.712 L 124.132 446.887 L 126.502 506.857 L 128.797 578.333 L 131.167 478.739 L 133.462 483.920 L 135.832 475.225 L 138.203 430.438 L 140.421 388.600 L 142.791 388.600 L 145.086 396.954 L 147.456 466.240 L 149.751 425.236 L 152.121 411.661 L 154.492 390.095 L 156.786 388.600 L 159.157 410.650 L 161.451 407.541 L 163.822 399.799 L 166.193 388.600 L 168.334 388.600 L 170.705 388.600 L 172.999 388.600 L 175.370 388.600 L 177.664 405.313 L 180.034 388.600 L 182.405 423.474 L 184.699 391.362 L 187.070 388.600 L 189.364 388.600 L 191.735 388.600 L 194.106 428.249 L 196.247 388.600 L 198.618 388.600 L 200.912 388.600 L 203.283 388.600 L 205.577 388.600 L 207.948 405.403 L 210.318 388.600 L 212.613 405.886 L 214.983 388.600 L 217.277 388.600 L 219.648 393.267 L 222.019 427.710 L 224.160 388.600 L 226.531 407.983 L 228.825 398.654 L 231.196 388.600 L 233.490 412.012 L 235.861 390.477 L 238.231 460.091 L 240.526 487.665 L 242.896 403.420 L 245.191 402.865 L 247.561 422.148 L 249.932 476.979 L 252.150 481.215 L 254.521 413.794 L 256.815 410.854 L 259.185 394.120 L 261.480 393.110 L 263.850 388.600 L 266.221 389.958 L 268.515 391.332 L 270.886 412.924 L 273.180 388.600 L 275.551 388.600 L 277.922 388.600 L 280.063 388.600 L 282.434 389.033 L 284.728 388.600 L 287.099 388.600 L 289.393 388.600 L 291.764 388.600 L 294.134 388.600 L 296.428 388.600 L 298.799 388.600 L 301.093 388.600 L 303.464 388.600 L 305.835 388.600 L 307.976 431.997 L 310.347 460.787 L 312.641 457.954 L 315.012 435.375 L 317.306 430.206 L 319.677 391.567 L 322.047 388.600 L 324.342 388.600 L 326.712 465.934 L 329.007 447.415 L 331.377 544.281 L 333.748 468.855 L 335.889 438.115 L 338.260 419.030 L 340.554 388.600 L 342.925 461.894 L 345.219 390.139 L 347.590 388.600 L 349.961 408.759 L 352.255 389.960 L 354.625 388.600 L 356.920 388.600 L 359.290 388.600 L 361.661 390.414 L 363.879 483.983 L 366.250 611.466 L 368.544 498.396 L 370.915 452.912 L 373.209 433.605 L 375.579 388.600 L 377.950 388.600 L 380.244 432.310 L 382.615 461.928 L 384.909 388.600 L 387.280 388.600 L 389.651 401.009 L 391.792 388.600 L 394.163 388.600 L 396.457 388.600 L 398.828 388.600 L 401.122 388.600 L 403.493 388.600 L 405.863 388.600 L 408.158 441.604 L 410.528 388.600 L 412.823 397.886 L 415.193 388.600 L 417.564 447.194 L 419.705 480.300 L 422.076 443.720 L 424.370 536.879 L 426.741 536.828 L 429.035 617.898 L 431.406 537.263 L 433.776 578.243 L 436.071 664.600 L 438.441 597.652 L 440.736 548.994 L 443.106 605.246 L 445.477 549.815 L 447.618 574.701 L 449.989 542.167 L 452.283 528.100 L 454.654 525.681 L 456.948 462.430 L 459.319 430.031 L 461.690 449.038 L 463.984 500.380 L 466.355 522.415 L 468.649 434.978 L 471.020 388.600 L 473.390 388.600 L 475.608 388.600 L 477.979 388.600 L 480.273 434.970 L 482.644 388.600 L 484.938 388.600 L 487.309 388.600 L 489.679 388.600 L 491.974 388.600 L 494.344 399.627 L 496.638 388.600 L 499.009 416.445 L 501.380 388.600 L 503.521 404.469 L 505.892 467.676 L 508.186 475.570 L 510.557 412.366 L 512.851 388.600 L 515.222 388.600 L 517.592 388.600 L 519.887 391.577 L 519.887 388.600 L 519.887 388.600 L 517.592 388.600 L 515.222 388.600 L 512.851 388.600 L 510.557 388.600 L 508.186 388.600 L 505.892 388.600 L 503.521 388.600 L 501.380 388.600 L 499.009 388.600 L 496.638 388.600 L 494.344 388.600 L 491.974 388.600 L 489.679 388.600 L 487.309 388.600 L 484.938 388.600 L 482.644 388.600 L 480.273 388.600 L 477.979 388.600 L 475.608 388.600 L 473.390 388.600 L 471.020 388.600 L 468.649 388.600 L 466.355 388.600 L 463.984 388.600 L 461.690 388.600 L 459.319 388.600 L 456.948 388.600 L 454.654 388.600 L 452.283 388.600 L 449.989 388.600 L 447.618 388.600 L 445.477 388.600 L 443.106 388.600 L 440.736 388.600 L 438.441 388.600 L 436.071 388.600 L 433.776 388.600 L 431.406 388.600 L 429.035 388.600 L 426.741 388.600 L 424.370 388.600 L 422.076 388.600 L 419.705 388.600 L 417.564 388.600 L 415.193 388.600 L 412.823 388.600 L 410.528 388.600 L 408.158 388.600 L 405.863 388.600 L 403.493 388.600 L 401.122 388.600 L 398.828 388.600 L 396.457 388.600 L 394.163 388.600 L 391.792 388.600 L 389.651 388.600 L 387.280 388.600 L 384.909 388.600 L 382.615 388.600 L 380.244 388.600 L 377.950 388.600 L 375.579 388.600 L 373.209 388.600 L 370.915 388.600 L 368.544 388.600 L 366.250 388.600 L 363.879 388.600 L 361.661 388.600 L 359.290 388.600 L 356.920 388.600 L 354.625 388.600 L 352.255 388.600 L 349.961 388.600 L 347.590 388.600 L 345.219 388.600 L 342.925 388.600 L 340.554 388.600 L 338.260 388.600 L 335.889 388.600 L 333.748 388.600 L 331.377 388.600 L 329.007 388.600 L 326.712 388.600 L 324.342 388.600 L 322.047 388.600 L 319.677 388.600 L 317.306 388.600 L 315.012 388.600 L 312.641 388.600 L 310.347 388.600 L 307.976 388.600 L 305.835 388.600 L 303.464 388.600 L 301.093 388.600 L 298.799 388.600 L 296.428 388.600 L 294.134 388.600 L 291.764 388.600 L 289.393 388.600 L 287.099 388.600 L 284.728 388.600 L 282.434 388.600 L 280.063 388.600 L 277.922 388.600 L 275.551 388.600 L 273.180 388.600 L 270.886 388.600 L 268.515 388.600 L 266.221 388.600 L 263.850 388.600 L 261.480 388.600 L 259.185 388.600 L 256.815 388.600 L 254.521 388.600 L 252.150 388.600 L 249.932 388.600 L 247.561 388.600 L 245.191 388.600 L 242.896 388.600 L 240.526 388.600 L 238.231 388.600 L 235.861 388.600 L 233.490 388.600 L 231.196 388.600 L 228.825 388.600 L 226.531 388.600 L 224.160 388.600 L 222.019 388.600 L 219.648 388.600 L 217.277 388.600 L 214.983 388.600 L 212.613 388.600 L 210.318 388.600 L 207.948 388.600 L 205.577 388.600 L 203.283 388.600 L 200.912 388.600 L 198.618 388.600 L 196.247 388.600 L 194.106 388.600 L 191.735 388.600 L 189.364 388.600 L 187.070 388.600 L 184.699 388.600 L 182.405 388.600 L 180.034 388.600 L 177.664 388.600 L 175.370 388.600 L 172.999 388.600 L 170.705 388.600 L 168.334 388.600 L 166.193 388.600 L 163.822 388.600 L 161.451 388.600 L 159.157 388.600 L 156.786 388.600 L 154.492 388.600 L 152.121 388.600 L 149.751 388.600 L 147.456 388.600 L 145.086 388.600 L 142.791 388.600 L 140.421 388.600 L 138.203 388.600 L 135.832 388.600 L 133.462 388.600 L 131.167 388.600 L 128.797 388.600 L 126.502 388.600 L 124.132 388.600 L 121.761 388.600 L 119.467 388.600 L 117.096 388.600 L 114.802 388.600 L 112.431 388.600 L 110.290 388.600 L 107.919 388.600 L 105.548 388.600 L 103.254 388.600 L 100.883 388.600 L 98.589 388.600 L 96.219 388.600 L 93.848 388.600 L 91.554 388.600 L 89.183 388.600 L 86.889 388.600 L 84.518 388.600 z" style="fill: #ff0000; fill-opacity: 0.6; stroke: #ff0000; stroke-opacity: 0.6"/> </g> </g> <g id="matplotlib.axis_5"> <g id="xtick_18"> <g id="line2d_73"> <path d="M 80.280 678.600 L 80.280 374.760" clip-path="url(#p8433cc870e)" style="fill: none; stroke: #b0b0b0; stroke-opacity: 0.3; stroke-width: 0.8; stroke-linecap: square"/> </g> <g id="line2d_74"> <g> <path d="M 80.280 678.600 L 80.280 682.200" style="fill: none; stroke: #000000; stroke-width: 0.8"/> </g> </g> <g id="text_41"> <text x="79.723" y="692.960" font-size="10.0800" text-anchor="middle" textLength="25.29" lengthAdjust="spacingAndGlyphs">2010</text> </g> </g> <g id="xtick_19"> <g id="line2d_75"> <path d="M 135.720 678.600 L 135.720 374.760" clip-path="url(#p8433cc870e)" style="fill: none; stroke: #b0b0b0; stroke-opacity: 0.3; stroke-width: 0.8; stroke-linecap: square"/> </g> <g id="line2d_76"> <g> <path d="M 135.720 678.600 L 135.720 682.200" style="fill: none; stroke: #000000; stroke-width: 0.8"/> </g> </g> <g id="text_42"> <text x="135.549" y="692.960" font-size="10.0800" text-anchor="middle" textLength="25.29" lengthAdjust="spacingAndGlyphs">2012</text> </g> </g> <g id="xtick_20"> <g id="line2d_77"> <path d="M 191.880 678.600 L 191.880 374.760" clip-path="url(#p8433cc870e)" style="fill: none; stroke: #b0b0b0; stroke-opacity: 0.3; stroke-width: 0.8; stroke-linecap: square"/> </g> <g id="line2d_78"> <g> <path d="M 191.880 678.600 L 191.880 682.200" style="fill: none; stroke: #000000; stroke-width: 0.8"/> </g> </g> <g id="text_43"> <text x="191.452" y="692.960" font-size="10.0800" text-anchor="middle" textLength="25.29" lengthAdjust="spacingAndGlyphs">2014</text> </g> </g> <g id="xtick_21"> <g id="line2d_79"> <path d="M 247.320 678.600 L 247.320 374.760" clip-path="url(#p8433cc870e)" style="fill: none; stroke: #b0b0b0; stroke-opacity: 0.3; stroke-width: 0.8; stroke-linecap: square"/> </g> <g id="line2d_80"> <g> <path d="M 247.320 678.600 L 247.320 682.200" style="fill: none; stroke: #000000; stroke-width: 0.8"/> </g> </g> <g id="text_44"> <text x="247.278" y="692.960" font-size="10.0800" text-anchor="middle" textLength="25.38" lengthAdjust="spacingAndGlyphs">2016</text> </g> </g> <g id="xtick_22"> <g id="line2d_81"> <path d="M 303.480 678.600 L 303.480 374.760" clip-path="url(#p8433cc870e)" style="fill: none; stroke: #b0b0b0; stroke-opacity: 0.3; stroke-width: 0.8; stroke-linecap: square"/> </g> <g id="line2d_82"> <g> <path d="M 303.480 678.600 L 303.480 682.200" style="fill: none; stroke: #000000; stroke-width: 0.8"/> </g> </g> <g id="text_45"> <text x="303.181" y="692.960" font-size="10.0800" text-anchor="middle" textLength="25.38" lengthAdjust="spacingAndGlyphs">2018</text> </g> </g> <g id="xtick_23"> <g id="line2d_83"> <path d="M 359.640 678.600 L 359.640 374.760" clip-path="url(#p8433cc870e)" style="fill: none; stroke: #b0b0b0; stroke-opacity: 0.3; stroke-width: 0.8; stroke-linecap: square"/> </g> <g id="line2d_84"> <g> <path d="M 359.640 678.600 L 359.640 682.200" style="fill: none; stroke: #000000; stroke-width: 0.8"/> </g> </g> <g id="text_46"> <text x="359.007" y="692.960" font-size="10.0800" text-anchor="middle" textLength="25.20" lengthAdjust="spacingAndGlyphs">2020</text> </g> </g> <g id="xtick_24"> <g id="line2d_85"> <path d="M 415.080 678.600 L 415.080 374.760" clip-path="url(#p8433cc870e)" style="fill: none; stroke: #b0b0b0; stroke-opacity: 0.3; stroke-width: 0.8; stroke-linecap: square"/> </g> <g id="line2d_86"> <g> <path d="M 415.080 678.600 L 415.080 682.200" style="fill: none; stroke: #000000; stroke-width: 0.8"/> </g> </g> <g id="text_47"> <text x="414.910" y="692.960" font-size="10.0800" text-anchor="middle" textLength="25.20" lengthAdjust="spacingAndGlyphs">2022</text> </g> </g> <g id="xtick_25"> <g id="line2d_87"> <path d="M 471.240 678.600 L 471.240 374.760" clip-path="url(#p8433cc870e)" style="fill: none; stroke: #b0b0b0; stroke-opacity: 0.3; stroke-width: 0.8; stroke-linecap: square"/> </g> <g id="line2d_88"> <g> <path d="M 471.240 678.600 L 471.240 682.200" style="fill: none; stroke: #000000; stroke-width: 0.8"/> </g> </g> <g id="text_48"> <text x="470.736" y="692.960" font-size="10.0800" text-anchor="middle" textLength="25.20" lengthAdjust="spacingAndGlyphs">2024</text> </g> </g> <g id="xtick_26"> <g id="line2d_89"> <path d="M 526.680 678.600 L 526.680 374.760" clip-path="url(#p8433cc870e)" style="fill: none; stroke: #b0b0b0; stroke-opacity: 0.3; stroke-width: 0.8; stroke-linecap: square"/> </g> <g id="line2d_90"> <g> <path d="M 526.680 678.600 L 526.680 682.200" style="fill: none; stroke: #000000; stroke-width: 0.8"/> </g> </g> <g id="text_49"> <text x="526.639" y="692.960" font-size="10.0800" text-anchor="middle" textLength="25.29" lengthAdjust="spacingAndGlyphs">2026</text> </g> </g> </g> <g id="matplotlib.axis_6"> <g id="ytick_15"> <g id="line2d_91"> <path d="M 63.000 667.080 L 541.800 667.080" clip-path="url(#p8433cc870e)" style="fill: none; stroke: #b0b0b0; stroke-opacity: 0.3; stroke-width: 0.8; stroke-linecap: square"/> </g> <g id="line2d_92"> <g> <path d="M 63.000 667.080 L 59.400 667.080" style="fill: none; stroke: #000000; stroke-width: 0.8"/> </g> </g> <g id="text_50"> <text x="55.390" y="670.768" font-size="10.0800" text-anchor="end" textLength="30.42" lengthAdjust="spacingAndGlyphs">−0.25</text> </g> </g> <g id="ytick_16"> <g id="line2d_93"> <path d="M 63.000 611.640 L 541.800 611.640" clip-path="url(#p8433cc870e)" style="fill: none; stroke: #b0b0b0; stroke-opacity: 0.3; stroke-width: 0.8; stroke-linecap: square"/> </g> <g id="line2d_94"> <g> <path d="M 63.000 611.640 L 59.400 611.640" style="fill: none; stroke: #000000; stroke-width: 0.8"/> </g> </g> <g id="text_51"> <text x="55.390" y="615.055" font-size="10.0800" text-anchor="end" textLength="30.42" lengthAdjust="spacingAndGlyphs">−0.20</text> </g> </g> <g id="ytick_17"> <g id="line2d_95"> <path d="M 63.000 555.480 L 541.800 555.480" clip-path="url(#p8433cc870e)" style="fill: none; stroke: #b0b0b0; stroke-opacity: 0.3; stroke-width: 0.8; stroke-linecap: square"/> </g> <g id="line2d_96"> <g> <path d="M 63.000 555.480 L 59.400 555.480" style="fill: none; stroke: #000000; stroke-width: 0.8"/> </g> </g> <g id="text_52"> <text x="55.390" y="559.341" font-size="10.0800" text-anchor="end" textLength="30.51" lengthAdjust="spacingAndGlyphs">−0.15</text> </g> </g> <g id="ytick_18"> <g id="line2d_97"> <path d="M 63.000 500.040 L 541.800 500.040" clip-path="url(#p8433cc870e)" style="fill: none; stroke: #b0b0b0; stroke-opacity: 0.3; stroke-width: 0.8; stroke-linecap: square"/> </g> <g id="line2d_98"> <g> <path d="M 63.000 500.040 L 59.400 500.040" style="fill: none; stroke: #000000; stroke-width: 0.8"/> </g> </g> <g id="text_53"> <text x="55.390" y="503.627" font-size="10.0800" text-anchor="end" textLength="30.51" lengthAdjust="spacingAndGlyphs">−0.10</text> </g> </g> <g id="ytick_19"> <g id="line2d_99"> <path d="M 63.000 444.600 L 541.800 444.600" clip-path="url(#p8433cc870e)" style="fill: none; stroke: #b0b0b0; stroke-opacity: 0.3; stroke-width: 0.8; stroke-linecap: square"/> </g> <g id="line2d_100"> <g> <path d="M 63.000 444.600 L 59.400 444.600" style="fill: none; stroke: #000000; stroke-width: 0.8"/> </g> </g> <g id="text_54"> <text x="55.390" y="447.914" font-size="10.0800" text-anchor="end" textLength="30.42" lengthAdjust="spacingAndGlyphs">−0.05</text> </g> </g> <g id="ytick_20"> <g id="line2d_101"> <path d="M 63.000 388.440 L 541.800 388.440" clip-path="url(#p8433cc870e)" style="fill: none; stroke: #b0b0b0; stroke-opacity: 0.3; stroke-width: 0.8; stroke-linecap: square"/> </g> <g id="line2d_102"> <g> <path d="M 63.000 388.440 L 59.400 388.440" style="fill: none; stroke: #000000; stroke-width: 0.8"/> </g> </g> <g id="text_55"> <text x="55.390" y="392.200" font-size="10.0800" text-anchor="end" textLength="22.05" lengthAdjust="spacingAndGlyphs">0.00</text> </g> </g> <g id="text_56"> <text x="18.720" y="526.240" transform="rotate(-90 18.720 526.240)" font-size="10.0800" text-anchor="middle" textLength="65.88" lengthAdjust="spacingAndGlyphs">Drawdown %</text> </g> </g> <g id="patch_15"> <path d="M 63.000 678.600 L 63.000 374.760" style="fill: none; stroke: #000000; stroke-width: 0.8; stroke-linejoin: miter; stroke-linecap: square"/> </g> <g id="patch_16"> <path d="M 541.800 678.600 L 541.800 374.760" style="fill: none; stroke: #000000; stroke-width: 0.8; stroke-linejoin: miter; stroke-linecap: square"/> </g> <g id="patch_17"> <path d="M 63.000 678.600 L 541.800 678.600" style="fill: none; stroke: #000000; stroke-width: 0.8; stroke-linejoin: miter; stroke-linecap: square"/><path d="M 63.000 678.600 L 541.800 678.600" style="fill:none;stroke:#000;stroke-width:2.160;stroke-opacity:0.055;stroke-linecap:butt"/> </g> <g id="patch_18"> <path d="M 63.000 374.760 L 541.800 374.760" style="fill: none; stroke: #000000; stroke-width: 0.8; stroke-linejoin: miter; stroke-linecap: square"/><path d="M 63.000 374.760 L 541.800 374.760" style="fill:none;stroke:#000;stroke-width:2.160;stroke-opacity:0.055;stroke-linecap:butt"/> </g> <g id="text_57"> <text x="301.843" y="368.440" font-size="12.6000" text-anchor="middle" textLength="391.41" lengthAdjust="spacingAndGlyphs">Drawdown Comparison (Strategy: -23.6% vs Benchmark: -24.8%)</text> </g> <g id="legend_3"> <g id="patch_19"> <path d="M 69.480 673.560 L 177.480 673.560 Q 179.640 673.560 179.640 671.400 L 179.640 642.600 Q 179.640 640.440 177.480 640.440 L 69.480 640.440 Q 68.040 640.440 68.040 642.600 L 68.040 671.400 Q 68.040 673.560 69.480 673.560 z " style="fill: #ffffff; opacity: 0.8; stroke: #cccccc; stroke-linejoin: miter"/> </g> <g id="patch_20"> <path d="M 71.640 651.960 L 91.800 651.960 L 91.800 645.480 L 71.640 645.480 z" style="fill: #0000ff; fill-opacity: 0.6; stroke: #0000ff; stroke-opacity: 0.6; stroke-linejoin: miter"/> </g> <g id="text_58"> <text x="99.390" y="651.800" font-size="10.0800" text-anchor="start" textLength="61.65" lengthAdjust="spacingAndGlyphs">Strategy DD</text> </g> <g id="patch_21"> <path d="M 71.640 667.080 L 91.800 667.080 L 91.800 660.600 L 71.640 660.600 z" style="fill: #ff0000; fill-opacity: 0.6; stroke: #ff0000; stroke-opacity: 0.6; stroke-linejoin: miter"/> </g> <g id="text_59"> <text x="99.390" y="666.880" font-size="10.0800" text-anchor="start" textLength="75.69" lengthAdjust="spacingAndGlyphs">Benchmark DD</text> </g> </g> </g> <g id="axes_4"> <g id="patch_22"> <path d="M 588.960 678.240 L 1067.760 678.240 L 1067.760 374.400 L 588.960 374.400 z" style="fill: #ffffff"/> </g> <g id="patch_23"> <path d="M 610.560 678.240 L 624.960 678.240 L 624.960 663.120 L 610.560 663.120 z" clip-path="url(#pa56bc3196a)" style="fill: #0000ff; opacity: 0.7"/> </g> <g id="patch_24"> <path d="M 624.960 678.240 L 640.080 678.240 L 640.080 671.040 L 624.960 671.040 z" clip-path="url(#pa56bc3196a)" style="fill: #0000ff; opacity: 0.7"/> </g> <g id="patch_25"> <path d="M 640.080 678.240 L 654.480 678.240 L 654.480 671.040 L 640.080 671.040 z" clip-path="url(#pa56bc3196a)" style="fill: #0000ff; opacity: 0.7"/> </g> <g id="patch_26"> <path d="M 654.480 678.240 L 668.880 678.240 L 668.880 678.240 L 654.480 678.240 z" clip-path="url(#pa56bc3196a)" style="fill: #0000ff; opacity: 0.7"/> </g> <g id="patch_27"> <path d="M 668.880 678.240 L 683.280 678.240 L 683.280 678.240 L 668.880 678.240 z" clip-path="url(#pa56bc3196a)" style="fill: #0000ff; opacity: 0.7"/> </g> <g id="patch_28"> <path d="M 683.280 678.240 L 697.680 678.240 L 697.680 671.040 L 683.280 671.040 z" clip-path="url(#pa56bc3196a)" style="fill: #0000ff; opacity: 0.7"/> </g> <g id="patch_29"> <path d="M 697.680 678.240 L 712.080 678.240 L 712.080 663.120 L 697.680 663.120 z" clip-path="url(#pa56bc3196a)" style="fill: #0000ff; opacity: 0.7"/> </g> <g id="patch_30"> <path d="M 712.080 678.240 L 726.480 678.240 L 726.480 671.040 L 712.080 671.040 z" clip-path="url(#pa56bc3196a)" style="fill: #0000ff; opacity: 0.7"/> </g> <g id="patch_31"> <path d="M 726.480 678.240 L 741.600 678.240 L 741.600 612.000 L 726.480 612.000 z" clip-path="url(#pa56bc3196a)" style="fill: #0000ff; opacity: 0.7"/> </g> <g id="patch_32"> <path d="M 741.600 678.240 L 756.000 678.240 L 756.000 633.600 L 741.600 633.600 z" clip-path="url(#pa56bc3196a)" style="fill: #0000ff; opacity: 0.7"/> </g> <g id="patch_33"> <path d="M 756.000 678.240 L 770.400 678.240 L 770.400 612.000 L 756.000 612.000 z" clip-path="url(#pa56bc3196a)" style="fill: #0000ff; opacity: 0.7"/> </g> <g id="patch_34"> <path d="M 770.400 678.240 L 784.800 678.240 L 784.800 626.400 L 770.400 626.400 z" clip-path="url(#pa56bc3196a)" style="fill: #0000ff; opacity: 0.7"/> </g> <g id="patch_35"> <path d="M 784.800 678.240 L 799.200 678.240 L 799.200 545.760 L 784.800 545.760 z" clip-path="url(#pa56bc3196a)" style="fill: #0000ff; opacity: 0.7"/> </g> <g id="patch_36"> <path d="M 799.200 678.240 L 813.600 678.240 L 813.600 413.280 L 799.200 413.280 z" clip-path="url(#pa56bc3196a)" style="fill: #0000ff; opacity: 0.7"/> </g> <g id="patch_37"> <path d="M 813.600 678.240 L 828.720 678.240 L 828.720 552.960 L 813.600 552.960 z" clip-path="url(#pa56bc3196a)" style="fill: #0000ff; opacity: 0.7"/> </g> <g id="patch_38"> <path d="M 828.720 678.240 L 843.120 678.240 L 843.120 589.680 L 828.720 589.680 z" clip-path="url(#pa56bc3196a)" style="fill: #0000ff; opacity: 0.7"/> </g> <g id="patch_39"> <path d="M 843.120 678.240 L 857.520 678.240 L 857.520 545.760 L 843.120 545.760 z" clip-path="url(#pa56bc3196a)" style="fill: #0000ff; opacity: 0.7"/> </g> <g id="patch_40"> <path d="M 857.520 678.240 L 871.920 678.240 L 871.920 589.680 L 857.520 589.680 z" clip-path="url(#pa56bc3196a)" style="fill: #0000ff; opacity: 0.7"/> </g> <g id="patch_41"> <path d="M 871.920 678.240 L 886.320 678.240 L 886.320 582.480 L 871.920 582.480 z" clip-path="url(#pa56bc3196a)" style="fill: #0000ff; opacity: 0.7"/> </g> <g id="patch_42"> <path d="M 886.320 678.240 L 900.720 678.240 L 900.720 596.880 L 886.320 596.880 z" clip-path="url(#pa56bc3196a)" style="fill: #0000ff; opacity: 0.7"/> </g> <g id="patch_43"> <path d="M 900.720 678.240 L 915.120 678.240 L 915.120 641.520 L 900.720 641.520 z" clip-path="url(#pa56bc3196a)" style="fill: #0000ff; opacity: 0.7"/> </g> <g id="patch_44"> <path d="M 915.120 678.240 L 930.240 678.240 L 930.240 671.040 L 915.120 671.040 z" clip-path="url(#pa56bc3196a)" style="fill: #0000ff; opacity: 0.7"/> </g> <g id="patch_45"> <path d="M 930.240 678.240 L 944.640 678.240 L 944.640 671.040 L 930.240 671.040 z" clip-path="url(#pa56bc3196a)" style="fill: #0000ff; opacity: 0.7"/> </g> <g id="patch_46"> <path d="M 944.640 678.240 L 959.040 678.240 L 959.040 678.240 L 944.640 678.240 z" clip-path="url(#pa56bc3196a)" style="fill: #0000ff; opacity: 0.7"/> </g> <g id="patch_47"> <path d="M 959.040 678.240 L 973.440 678.240 L 973.440 663.120 L 959.040 663.120 z" clip-path="url(#pa56bc3196a)" style="fill: #0000ff; opacity: 0.7"/> </g> <g id="patch_48"> <path d="M 973.440 678.240 L 987.840 678.240 L 987.840 671.040 L 973.440 671.040 z" clip-path="url(#pa56bc3196a)" style="fill: #0000ff; opacity: 0.7"/> </g> <g id="patch_49"> <path d="M 987.840 678.240 L 1002.240 678.240 L 1002.240 671.040 L 987.840 671.040 z" clip-path="url(#pa56bc3196a)" style="fill: #0000ff; opacity: 0.7"/> </g> <g id="patch_50"> <path d="M 1002.240 678.240 L 1017.360 678.240 L 1017.360 678.240 L 1002.240 678.240 z" clip-path="url(#pa56bc3196a)" style="fill: #0000ff; opacity: 0.7"/> </g> <g id="patch_51"> <path d="M 1017.360 678.240 L 1031.760 678.240 L 1031.760 678.240 L 1017.360 678.240 z" clip-path="url(#pa56bc3196a)" style="fill: #0000ff; opacity: 0.7"/> </g> <g id="patch_52"> <path d="M 1031.760 678.240 L 1046.160 678.240 L 1046.160 671.040 L 1031.760 671.040 z" clip-path="url(#pa56bc3196a)" style="fill: #0000ff; opacity: 0.7"/> </g> <g id="patch_53"> <path d="M 658.080 678.240 L 668.160 678.240 L 668.160 667.440 L 658.080 667.440 z" clip-path="url(#pa56bc3196a)" style="fill: #ff0000; opacity: 0.7"/> </g> <g id="patch_54"> <path d="M 668.160 678.240 L 678.240 678.240 L 678.240 678.240 L 668.160 678.240 z" clip-path="url(#pa56bc3196a)" style="fill: #ff0000; opacity: 0.7"/> </g> <g id="patch_55"> <path d="M 678.240 678.240 L 688.320 678.240 L 688.320 678.240 L 678.240 678.240 z" clip-path="url(#pa56bc3196a)" style="fill: #ff0000; opacity: 0.7"/> </g> <g id="patch_56"> <path d="M 688.320 678.240 L 698.400 678.240 L 698.400 656.640 L 688.320 656.640 z" clip-path="url(#pa56bc3196a)" style="fill: #ff0000; opacity: 0.7"/> </g> <g id="patch_57"> <path d="M 698.400 678.240 L 708.480 678.240 L 708.480 645.840 L 698.400 645.840 z" clip-path="url(#pa56bc3196a)" style="fill: #ff0000; opacity: 0.7"/> </g> <g id="patch_58"> <path d="M 708.480 678.240 L 717.840 678.240 L 717.840 667.440 L 708.480 667.440 z" clip-path="url(#pa56bc3196a)" style="fill: #ff0000; opacity: 0.7"/> </g> <g id="patch_59"> <path d="M 717.840 678.240 L 727.920 678.240 L 727.920 656.640 L 717.840 656.640 z" clip-path="url(#pa56bc3196a)" style="fill: #ff0000; opacity: 0.7"/> </g> <g id="patch_60"> <path d="M 727.920 678.240 L 738.000 678.240 L 738.000 635.040 L 727.920 635.040 z" clip-path="url(#pa56bc3196a)" style="fill: #ff0000; opacity: 0.7"/> </g> <g id="patch_61"> <path d="M 738.000 678.240 L 748.080 678.240 L 748.080 624.240 L 738.000 624.240 z" clip-path="url(#pa56bc3196a)" style="fill: #ff0000; opacity: 0.7"/> </g> <g id="patch_62"> <path d="M 748.080 678.240 L 758.160 678.240 L 758.160 624.240 L 748.080 624.240 z" clip-path="url(#pa56bc3196a)" style="fill: #ff0000; opacity: 0.7"/> </g> <g id="patch_63"> <path d="M 758.160 678.240 L 768.240 678.240 L 768.240 645.840 L 758.160 645.840 z" clip-path="url(#pa56bc3196a)" style="fill: #ff0000; opacity: 0.7"/> </g> <g id="patch_64"> <path d="M 768.240 678.240 L 778.320 678.240 L 778.320 592.560 L 768.240 592.560 z" clip-path="url(#pa56bc3196a)" style="fill: #ff0000; opacity: 0.7"/> </g> <g id="patch_65"> <path d="M 778.320 678.240 L 787.680 678.240 L 787.680 570.960 L 778.320 570.960 z" clip-path="url(#pa56bc3196a)" style="fill: #ff0000; opacity: 0.7"/> </g> <g id="patch_66"> <path d="M 787.680 678.240 L 797.760 678.240 L 797.760 581.760 L 787.680 581.760 z" clip-path="url(#pa56bc3196a)" style="fill: #ff0000; opacity: 0.7"/> </g> <g id="patch_67"> <path d="M 797.760 678.240 L 807.840 678.240 L 807.840 527.760 L 797.760 527.760 z" clip-path="url(#pa56bc3196a)" style="fill: #ff0000; opacity: 0.7"/> </g> <g id="patch_68"> <path d="M 807.840 678.240 L 817.920 678.240 L 817.920 517.680 L 807.840 517.680 z" clip-path="url(#pa56bc3196a)" style="fill: #ff0000; opacity: 0.7"/> </g> <g id="patch_69"> <path d="M 817.920 678.240 L 828.000 678.240 L 828.000 549.360 L 817.920 549.360 z" clip-path="url(#pa56bc3196a)" style="fill: #ff0000; opacity: 0.7"/> </g> <g id="patch_70"> <path d="M 828.000 678.240 L 838.080 678.240 L 838.080 388.800 L 828.000 388.800 z" clip-path="url(#pa56bc3196a)" style="fill: #ff0000; opacity: 0.7"/> </g> <g id="patch_71"> <path d="M 838.080 678.240 L 847.440 678.240 L 847.440 496.080 L 838.080 496.080 z" clip-path="url(#pa56bc3196a)" style="fill: #ff0000; opacity: 0.7"/> </g> <g id="patch_72"> <path d="M 847.440 678.240 L 857.520 678.240 L 857.520 527.760 L 847.440 527.760 z" clip-path="url(#pa56bc3196a)" style="fill: #ff0000; opacity: 0.7"/> </g> <g id="patch_73"> <path d="M 857.520 678.240 L 867.600 678.240 L 867.600 570.960 L 857.520 570.960 z" clip-path="url(#pa56bc3196a)" style="fill: #ff0000; opacity: 0.7"/> </g> <g id="patch_74"> <path d="M 867.600 678.240 L 877.680 678.240 L 877.680 592.560 L 867.600 592.560 z" clip-path="url(#pa56bc3196a)" style="fill: #ff0000; opacity: 0.7"/> </g> <g id="patch_75"> <path d="M 877.680 678.240 L 887.760 678.240 L 887.760 624.240 L 877.680 624.240 z" clip-path="url(#pa56bc3196a)" style="fill: #ff0000; opacity: 0.7"/> </g> <g id="patch_76"> <path d="M 887.760 678.240 L 897.840 678.240 L 897.840 635.040 L 887.760 635.040 z" clip-path="url(#pa56bc3196a)" style="fill: #ff0000; opacity: 0.7"/> </g> <g id="patch_77"> <path d="M 897.840 678.240 L 907.920 678.240 L 907.920 645.840 L 897.840 645.840 z" clip-path="url(#pa56bc3196a)" style="fill: #ff0000; opacity: 0.7"/> </g> <g id="patch_78"> <path d="M 907.920 678.240 L 917.280 678.240 L 917.280 645.840 L 907.920 645.840 z" clip-path="url(#pa56bc3196a)" style="fill: #ff0000; opacity: 0.7"/> </g> <g id="patch_79"> <path d="M 917.280 678.240 L 927.360 678.240 L 927.360 678.240 L 917.280 678.240 z" clip-path="url(#pa56bc3196a)" style="fill: #ff0000; opacity: 0.7"/> </g> <g id="patch_80"> <path d="M 927.360 678.240 L 937.440 678.240 L 937.440 656.640 L 927.360 656.640 z" clip-path="url(#pa56bc3196a)" style="fill: #ff0000; opacity: 0.7"/> </g> <g id="patch_81"> <path d="M 937.440 678.240 L 947.520 678.240 L 947.520 678.240 L 937.440 678.240 z" clip-path="url(#pa56bc3196a)" style="fill: #ff0000; opacity: 0.7"/> </g> <g id="patch_82"> <path d="M 947.520 678.240 L 957.600 678.240 L 957.600 667.440 L 947.520 667.440 z" clip-path="url(#pa56bc3196a)" style="fill: #ff0000; opacity: 0.7"/> </g> <g id="matplotlib.axis_7"> <g id="xtick_27"> <g id="line2d_103"> <path d="M 628.920 678.600 L 628.920 374.760" clip-path="url(#pa56bc3196a)" style="fill: none; stroke: #b0b0b0; stroke-opacity: 0.3; stroke-width: 0.8; stroke-linecap: square"/> </g> <g id="line2d_104"> <g> <path d="M 628.920 678.600 L 628.920 682.200" style="fill: none; stroke: #000000; stroke-width: 0.8"/> </g> </g> <g id="text_60"> <text x="628.749" y="692.960" font-size="10.0800" text-anchor="middle" textLength="30.51" lengthAdjust="spacingAndGlyphs">−0.15</text> </g> </g> <g id="xtick_28"> <g id="line2d_105"> <path d="M 688.680 678.600 L 688.680 374.760" clip-path="url(#pa56bc3196a)" style="fill: none; stroke: #b0b0b0; stroke-opacity: 0.3; stroke-width: 0.8; stroke-linecap: square"/> </g> <g id="line2d_106"> <g> <path d="M 688.680 678.600 L 688.680 682.200" style="fill: none; stroke: #000000; stroke-width: 0.8"/> </g> </g> <g id="text_61"> <text x="688.124" y="692.960" font-size="10.0800" text-anchor="middle" textLength="30.51" lengthAdjust="spacingAndGlyphs">−0.10</text> </g> </g> <g id="xtick_29"> <g id="line2d_107"> <path d="M 747.720 678.600 L 747.720 374.760" clip-path="url(#pa56bc3196a)" style="fill: none; stroke: #b0b0b0; stroke-opacity: 0.3; stroke-width: 0.8; stroke-linecap: square"/> </g> <g id="line2d_108"> <g> <path d="M 747.720 678.600 L 747.720 682.200" style="fill: none; stroke: #000000; stroke-width: 0.8"/> </g> </g> <g id="text_62"> <text x="747.498" y="692.960" font-size="10.0800" text-anchor="middle" textLength="30.42" lengthAdjust="spacingAndGlyphs">−0.05</text> </g> </g> <g id="xtick_30"> <g id="line2d_109"> <path d="M 807.480 678.600 L 807.480 374.760" clip-path="url(#pa56bc3196a)" style="fill: none; stroke: #b0b0b0; stroke-opacity: 0.3; stroke-width: 0.8; stroke-linecap: square"/> </g> <g id="line2d_110"> <g> <path d="M 807.480 678.600 L 807.480 682.200" style="fill: none; stroke: #000000; stroke-width: 0.8"/> </g> </g> <g id="text_63"> <text x="806.872" y="692.960" font-size="10.0800" text-anchor="middle" textLength="22.05" lengthAdjust="spacingAndGlyphs">0.00</text> </g> </g> <g id="xtick_31"> <g id="line2d_111"> <path d="M 866.520 678.600 L 866.520 374.760" clip-path="url(#pa56bc3196a)" style="fill: none; stroke: #b0b0b0; stroke-opacity: 0.3; stroke-width: 0.8; stroke-linecap: square"/> </g> <g id="line2d_112"> <g> <path d="M 866.520 678.600 L 866.520 682.200" style="fill: none; stroke: #000000; stroke-width: 0.8"/> </g> </g> <g id="text_64"> <text x="866.246" y="692.960" font-size="10.0800" text-anchor="middle" textLength="22.05" lengthAdjust="spacingAndGlyphs">0.05</text> </g> </g> <g id="xtick_32"> <g id="line2d_113"> <path d="M 926.280 678.600 L 926.280 374.760" clip-path="url(#pa56bc3196a)" style="fill: none; stroke: #b0b0b0; stroke-opacity: 0.3; stroke-width: 0.8; stroke-linecap: square"/> </g> <g id="line2d_114"> <g> <path d="M 926.280 678.600 L 926.280 682.200" style="fill: none; stroke: #000000; stroke-width: 0.8"/> </g> </g> <g id="text_65"> <text x="925.620" y="692.960" font-size="10.0800" text-anchor="middle" textLength="22.14" lengthAdjust="spacingAndGlyphs">0.10</text> </g> </g> <g id="xtick_33"> <g id="line2d_115"> <path d="M 985.320 678.600 L 985.320 374.760" clip-path="url(#pa56bc3196a)" style="fill: none; stroke: #b0b0b0; stroke-opacity: 0.3; stroke-width: 0.8; stroke-linecap: square"/> </g> <g id="line2d_116"> <g> <path d="M 985.320 678.600 L 985.320 682.200" style="fill: none; stroke: #000000; stroke-width: 0.8"/> </g> </g> <g id="text_66"> <text x="984.994" y="692.960" font-size="10.0800" text-anchor="middle" textLength="22.14" lengthAdjust="spacingAndGlyphs">0.15</text> </g> </g> <g id="xtick_34"> <g id="line2d_117"> <path d="M 1045.080 678.600 L 1045.080 374.760" clip-path="url(#pa56bc3196a)" style="fill: none; stroke: #b0b0b0; stroke-opacity: 0.3; stroke-width: 0.8; stroke-linecap: square"/> </g> <g id="line2d_118"> <g> <path d="M 1045.080 678.600 L 1045.080 682.200" style="fill: none; stroke: #000000; stroke-width: 0.8"/> </g> </g> <g id="text_67"> <text x="1044.368" y="692.960" font-size="10.0800" text-anchor="middle" textLength="22.05" lengthAdjust="spacingAndGlyphs">0.20</text> </g> </g> <g id="text_68"> <text x="828.390" y="707.040" font-size="10.0800" text-anchor="middle" textLength="76.32" lengthAdjust="spacingAndGlyphs">Monthly Return</text> </g> </g> <g id="matplotlib.axis_8"> <g id="ytick_21"> <g id="line2d_119"> <path d="M 589.320 678.600 L 1068.120 678.600" clip-path="url(#pa56bc3196a)" style="fill: none; stroke: #b0b0b0; stroke-opacity: 0.3; stroke-width: 0.8; stroke-linecap: square"/> </g> <g id="line2d_120"> <g> <path d="M 589.320 678.600 L 585.720 678.600" style="fill: none; stroke: #000000; stroke-width: 0.8"/> </g> </g> <g id="text_69"> <text x="581.937" y="682.000" font-size="10.0800" text-anchor="end" textLength="6.30" lengthAdjust="spacingAndGlyphs">0</text> </g> </g> <g id="ytick_22"> <g id="line2d_121"> <path d="M 589.320 644.760 L 1068.120 644.760" clip-path="url(#pa56bc3196a)" style="fill: none; stroke: #b0b0b0; stroke-opacity: 0.3; stroke-width: 0.8; stroke-linecap: square"/> </g> <g id="line2d_122"> <g> <path d="M 589.320 644.760 L 585.720 644.760" style="fill: none; stroke: #000000; stroke-width: 0.8"/> </g> </g> <g id="text_70"> <text x="581.937" y="648.182" font-size="10.0800" text-anchor="end" textLength="6.30" lengthAdjust="spacingAndGlyphs">2</text> </g> </g> <g id="ytick_23"> <g id="line2d_123"> <path d="M 589.320 610.920 L 1068.120 610.920" clip-path="url(#pa56bc3196a)" style="fill: none; stroke: #b0b0b0; stroke-opacity: 0.3; stroke-width: 0.8; stroke-linecap: square"/> </g> <g id="line2d_124"> <g> <path d="M 589.320 610.920 L 585.720 610.920" style="fill: none; stroke: #000000; stroke-width: 0.8"/> </g> </g> <g id="text_71"> <text x="581.937" y="614.363" font-size="10.0800" text-anchor="end" textLength="6.30" lengthAdjust="spacingAndGlyphs">4</text> </g> </g> <g id="ytick_24"> <g id="line2d_125"> <path d="M 589.320 577.080 L 1068.120 577.080" clip-path="url(#pa56bc3196a)" style="fill: none; stroke: #b0b0b0; stroke-opacity: 0.3; stroke-width: 0.8; stroke-linecap: square"/> </g> <g id="line2d_126"> <g> <path d="M 589.320 577.080 L 585.720 577.080" style="fill: none; stroke: #000000; stroke-width: 0.8"/> </g> </g> <g id="text_72"> <text x="581.937" y="580.545" font-size="10.0800" text-anchor="end" textLength="6.39" lengthAdjust="spacingAndGlyphs">6</text> </g> </g> <g id="ytick_25"> <g id="line2d_127"> <path d="M 589.320 543.240 L 1068.120 543.240" clip-path="url(#pa56bc3196a)" style="fill: none; stroke: #b0b0b0; stroke-opacity: 0.3; stroke-width: 0.8; stroke-linecap: square"/> </g> <g id="line2d_128"> <g> <path d="M 589.320 543.240 L 585.720 543.240" style="fill: none; stroke: #000000; stroke-width: 0.8"/> </g> </g> <g id="text_73"> <text x="581.937" y="546.726" font-size="10.0800" text-anchor="end" textLength="6.39" lengthAdjust="spacingAndGlyphs">8</text> </g> </g> <g id="ytick_26"> <g id="line2d_129"> <path d="M 589.320 509.400 L 1068.120 509.400" clip-path="url(#pa56bc3196a)" style="fill: none; stroke: #b0b0b0; stroke-opacity: 0.3; stroke-width: 0.8; stroke-linecap: square"/> </g> <g id="line2d_130"> <g> <path d="M 589.320 509.400 L 585.720 509.400" style="fill: none; stroke: #000000; stroke-width: 0.8"/> </g> </g> <g id="text_74"> <text x="581.937" y="512.908" font-size="10.0800" text-anchor="end" textLength="12.69" lengthAdjust="spacingAndGlyphs">10</text> </g> </g> <g id="ytick_27"> <g id="line2d_131"> <path d="M 589.320 475.560 L 1068.120 475.560" clip-path="url(#pa56bc3196a)" style="fill: none; stroke: #b0b0b0; stroke-opacity: 0.3; stroke-width: 0.8; stroke-linecap: square"/> </g> <g id="line2d_132"> <g> <path d="M 589.320 475.560 L 585.720 475.560" style="fill: none; stroke: #000000; stroke-width: 0.8"/> </g> </g> <g id="text_75"> <text x="581.937" y="479.090" font-size="10.0800" text-anchor="end" textLength="12.69" lengthAdjust="spacingAndGlyphs">12</text> </g> </g> <g id="ytick_28"> <g id="line2d_133"> <path d="M 589.320 441.720 L 1068.120 441.720" clip-path="url(#pa56bc3196a)" style="fill: none; stroke: #b0b0b0; stroke-opacity: 0.3; stroke-width: 0.8; stroke-linecap: square"/> </g> <g id="line2d_134"> <g> <path d="M 589.320 441.720 L 585.720 441.720" style="fill: none; stroke: #000000; stroke-width: 0.8"/> </g> </g> <g id="text_76"> <text x="581.937" y="445.271" font-size="10.0800" text-anchor="end" textLength="12.69" lengthAdjust="spacingAndGlyphs">14</text> </g> </g> <g id="ytick_29"> <g id="line2d_135"> <path d="M 589.320 407.880 L 1068.120 407.880" clip-path="url(#pa56bc3196a)" style="fill: none; stroke: #b0b0b0; stroke-opacity: 0.3; stroke-width: 0.8; stroke-linecap: square"/> </g> <g id="line2d_136"> <g> <path d="M 589.320 407.880 L 585.720 407.880" style="fill: none; stroke: #000000; stroke-width: 0.8"/> </g> </g> <g id="text_77"> <text x="581.937" y="411.453" font-size="10.0800" text-anchor="end" textLength="12.78" lengthAdjust="spacingAndGlyphs">16</text> </g> </g> <g id="text_78"> <text x="562.997" y="526.240" transform="rotate(-90 562.997 526.240)" font-size="10.0800" text-anchor="middle" textLength="37.98" lengthAdjust="spacingAndGlyphs">Density</text> </g> </g> <g id="patch_83"> <path d="M 589.320 678.600 L 589.320 374.760" style="fill: none; stroke: #000000; stroke-width: 0.8; stroke-linejoin: miter; stroke-linecap: square"/> </g> <g id="patch_84"> <path d="M 1068.120 678.600 L 1068.120 374.760" style="fill: none; stroke: #000000; stroke-width: 0.8; stroke-linejoin: miter; stroke-linecap: square"/> </g> <g id="patch_85"> <path d="M 589.320 678.600 L 1068.120 678.600" style="fill: none; stroke: #000000; stroke-width: 0.8; stroke-linejoin: miter; stroke-linecap: square"/><path d="M 589.320 678.600 L 1068.120 678.600" style="fill:none;stroke:#000;stroke-width:2.160;stroke-opacity:0.055;stroke-linecap:butt"/> </g> <g id="patch_86"> <path d="M 589.320 374.760 L 1068.120 374.760" style="fill: none; stroke: #000000; stroke-width: 0.8; stroke-linejoin: miter; stroke-linecap: square"/><path d="M 589.320 374.760 L 1068.120 374.760" style="fill:none;stroke:#000;stroke-width:2.160;stroke-opacity:0.055;stroke-linecap:butt"/> </g> <g id="text_79"> <text x="828.390" y="368.440" font-size="12.6000" text-anchor="middle" textLength="316.80" lengthAdjust="spacingAndGlyphs">Monthly Returns Distribution (Strategy More Volatile)</text> </g> <g id="legend_4"> <g id="patch_87"> <path d="M 918.360 412.920 L 1060.920 412.920 Q 1063.080 412.920 1063.080 410.760 L 1063.080 381.960 Q 1063.080 379.800 1060.920 379.800 L 918.360 379.800 Q 916.200 379.800 916.200 381.960 L 916.200 410.760 Q 916.200 412.920 918.360 412.920 z " style="fill: #ffffff; opacity: 0.8; stroke: #cccccc; stroke-linejoin: miter"/> </g> <g id="patch_88"> <path d="M 919.440 391.680 L 939.600 391.680 L 939.600 384.480 L 919.440 384.480 z" style="fill: #0000ff; opacity: 0.7"/> </g> <g id="text_80"> <text x="947.783" y="391.360" font-size="10.0800" text-anchor="start" textLength="97.02" lengthAdjust="spacingAndGlyphs">Strategy (σ=0.053)</text> </g> <g id="patch_89"> <path d="M 919.440 406.800 L 939.600 406.800 L 939.600 399.600 L 919.440 399.600 z" style="fill: #ff0000; opacity: 0.7"/> </g> <g id="text_81"> <text x="947.783" y="406.440" font-size="10.0800" text-anchor="start" textLength="111.06" lengthAdjust="spacingAndGlyphs">Benchmark (σ=0.042)</text> </g> </g> </g> </g> <defs> <clipPath id="pc12e215c33"> <rect x="62.39" y="26.88" width="478.905" height="303.6"/> </clipPath> <clipPath id="pae324ea439"> <rect x="588.937" y="26.88" width="478.905" height="303.6"/> </clipPath> <clipPath id="p8433cc870e"> <rect x="62.39" y="374.44" width="478.905" height="303.6"/> </clipPath> <clipPath id="pa56bc3196a"> <rect x="588.937" y="374.44" width="478.905" height="303.6"/> </clipPath> </defs> </svg> 
</body></html>
